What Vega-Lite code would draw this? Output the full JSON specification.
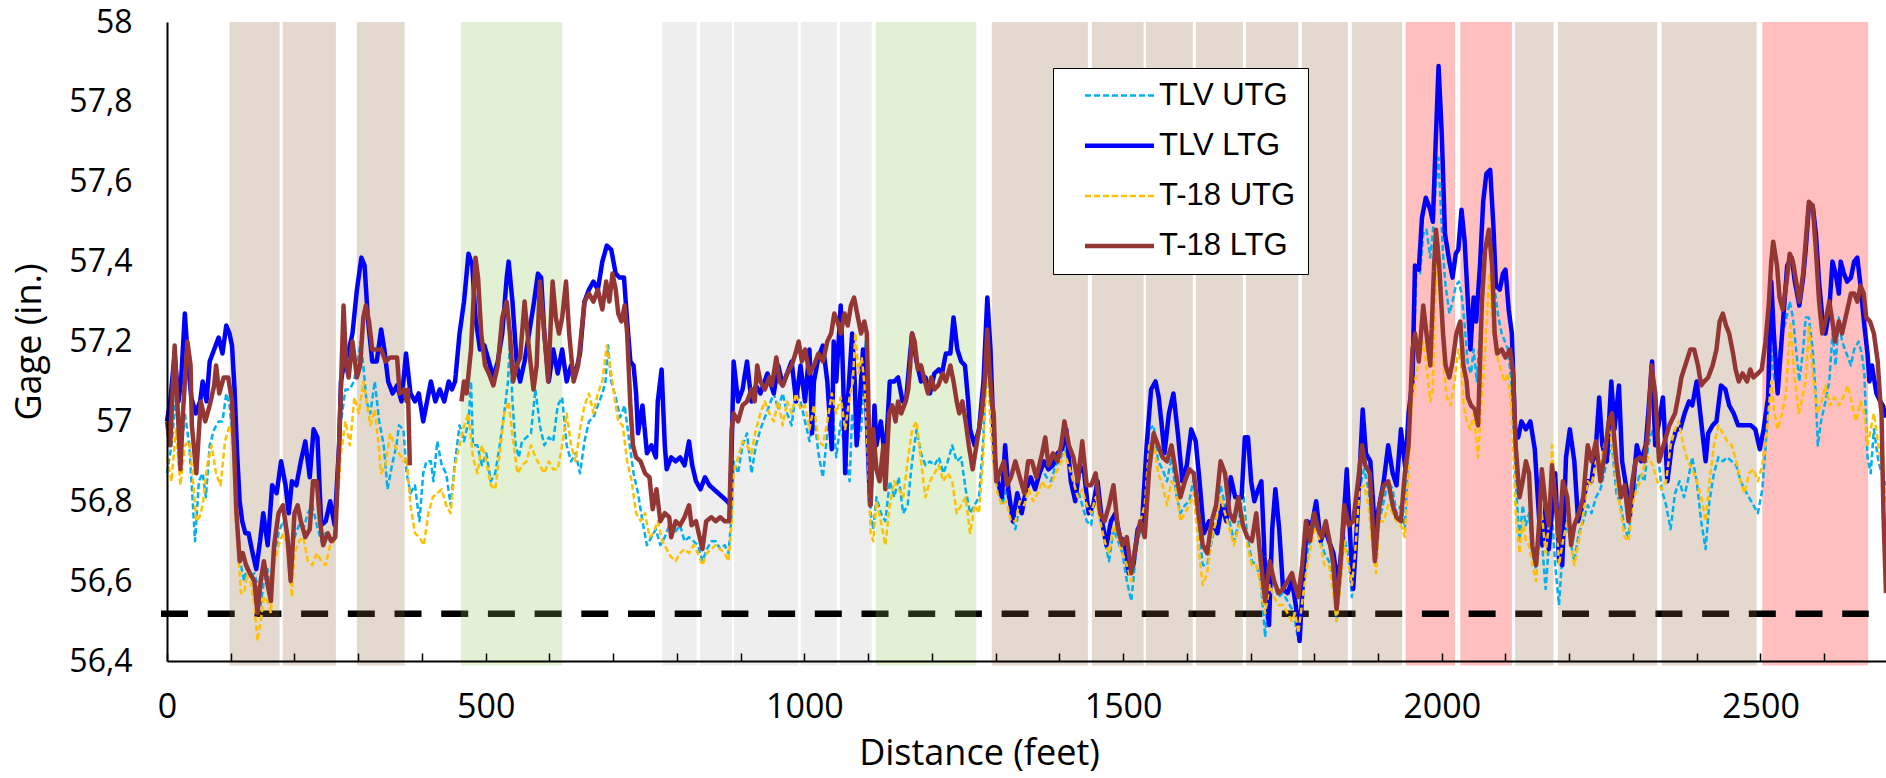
{
"$schema": "https://vega.github.io/schema/vega-lite/v6.json",
"width": 1719, "height": 639,
"autosize": {"type": "none"},
"padding": {"left": 167, "top": 22, "right": 0, "bottom": 117},
"background": "white",
"config": {"view": {"stroke": null}},
"datasets": {
"bands": [
{"start":98.2,"end":176.7,"type":"tan"},{"start":181.6,"end":265.0,"type":"tan"},{"start":297.9,"end":372.9,"type":"tan"},
{"start":461.1,"end":620.2,"type":"green"},
{"start":777.1,"end":831.0,"type":"grey"},{"start":836.6,"end":886.4,"type":"grey"},{"start":889.2,"end":990.1,"type":"grey"},{"start":994.3,"end":1051.0,"type":"grey"},{"start":1055.9,"end":1105.7,"type":"grey"},
{"start":1112.0,"end":1269.6,"type":"green"},
{"start":1294.1,"end":1444.8,"type":"tan"},{"start":1451.1,"end":1532.3,"type":"tan"},{"start":1535.8,"end":1609.4,"type":"tan"},{"start":1614.3,"end":1687.9,"type":"tan"},{"start":1692.7,"end":1775.1,"type":"tan"},{"start":1780.6,"end":1852.7,"type":"tan"},{"start":1858.9,"end":1937.8,"type":"tan"},
{"start":1943.3,"end":2020.9,"type":"red"},{"start":2029.1,"end":2110.1,"type":"red"},
{"start":2115.0,"end":2175.4,"type":"tan"},{"start":2182.2,"end":2338.1,"type":"tan"},{"start":2345.0,"end":2494.0,"type":"tan"},
{"start":2502.9,"end":2669.0,"type":"red"}
],
"limit": [{"x0": -9.4, "x1": 2670, "v": 56.518}],
"gage": [
{"s":"TLV UTG","d":0,"v":56.87},{"s":"TLV UTG","d":7,"v":56.94},{"s":"TLV UTG","d":14,"v":57.06},{"s":"TLV UTG","d":21,"v":56.9},{"s":"TLV UTG","d":28,"v":57.02},{"s":"TLV UTG","d":35,"v":56.94},{"s":"TLV UTG","d":44,"v":56.7},{"s":"TLV UTG","d":50,"v":56.85},{"s":"TLV UTG","d":56,"v":56.87},{"s":"TLV UTG","d":61,"v":56.81},{"s":"TLV UTG","d":67,"v":56.94},{"s":"TLV UTG","d":74,"v":56.98},{"s":"TLV UTG","d":81,"v":57.0},{"s":"TLV UTG","d":87,"v":57.0},{"s":"TLV UTG","d":93,"v":57.07},{"s":"TLV UTG","d":98,"v":57.04},{"s":"TLV UTG","d":102,"v":56.98},{"s":"TLV UTG","d":107,"v":56.85},{"s":"TLV UTG","d":111,"v":56.73},{"s":"TLV UTG","d":116,"v":56.64},{"s":"TLV UTG","d":121,"v":56.6},{"s":"TLV UTG","d":126,"v":56.64},{"s":"TLV UTG","d":131,"v":56.61},{"s":"TLV UTG","d":137,"v":56.62},{"s":"TLV UTG","d":142,"v":56.59},{"s":"TLV UTG","d":147,"v":56.54},{"s":"TLV UTG","d":152,"v":56.6},{"s":"TLV UTG","d":158,"v":56.63},{"s":"TLV UTG","d":163,"v":56.56},{"s":"TLV UTG","d":168,"v":56.65},{"s":"TLV UTG","d":175,"v":56.72},{"s":"TLV UTG","d":182,"v":56.75},{"s":"TLV UTG","d":189,"v":56.73},{"s":"TLV UTG","d":194,"v":56.64},{"s":"TLV UTG","d":200,"v":56.71},{"s":"TLV UTG","d":207,"v":56.74},{"s":"TLV UTG","d":214,"v":56.73},{"s":"TLV UTG","d":221,"v":56.77},{"s":"TLV UTG","d":228,"v":56.79},{"s":"TLV UTG","d":235,"v":56.74},{"s":"TLV UTG","d":242,"v":56.7},{"s":"TLV UTG","d":249,"v":56.72},{"s":"TLV UTG","d":256,"v":56.7},{"s":"TLV UTG","d":263,"v":56.72},{"s":"TLV UTG","d":268,"v":56.85},{"s":"TLV UTG","d":273,"v":57.0},{"s":"TLV UTG","d":280,"v":57.08},{"s":"TLV UTG","d":287,"v":57.08},{"s":"TLV UTG","d":293,"v":57.1},{"s":"TLV UTG","d":298,"v":57.14},{"s":"TLV UTG","d":304,"v":57.2},{"s":"TLV UTG","d":308,"v":57.14},{"s":"TLV UTG","d":313,"v":57.05},{"s":"TLV UTG","d":319,"v":57.02},{"s":"TLV UTG","d":326,"v":57.1},{"s":"TLV UTG","d":333,"v":57.0},{"s":"TLV UTG","d":340,"v":56.94},{"s":"TLV UTG","d":346,"v":56.83},{"s":"TLV UTG","d":353,"v":56.89},{"s":"TLV UTG","d":360,"v":56.94},{"s":"TLV UTG","d":364,"v":56.99},{"s":"TLV UTG","d":371,"v":56.98},{"s":"TLV UTG","d":376,"v":56.87},{"s":"TLV UTG","d":382,"v":56.82},{"s":"TLV UTG","d":389,"v":56.84},{"s":"TLV UTG","d":396,"v":56.75},{"s":"TLV UTG","d":402,"v":56.87},{"s":"TLV UTG","d":407,"v":56.9},{"s":"TLV UTG","d":414,"v":56.9},{"s":"TLV UTG","d":418,"v":56.85},{"s":"TLV UTG","d":424,"v":56.95},{"s":"TLV UTG","d":431,"v":56.89},{"s":"TLV UTG","d":438,"v":56.87},{"s":"TLV UTG","d":445,"v":56.79},{"s":"TLV UTG","d":452,"v":56.9},{"s":"TLV UTG","d":459,"v":56.99},{"s":"TLV UTG","d":466,"v":56.95},{"s":"TLV UTG","d":473,"v":57.0},{"s":"TLV UTG","d":477,"v":57.1},{"s":"TLV UTG","d":480,"v":56.94},{"s":"TLV UTG","d":487,"v":56.94},{"s":"TLV UTG","d":494,"v":56.89},{"s":"TLV UTG","d":501,"v":56.92},{"s":"TLV UTG","d":508,"v":56.85},{"s":"TLV UTG","d":515,"v":56.87},{"s":"TLV UTG","d":522,"v":56.94},{"s":"TLV UTG","d":529,"v":57.02},{"s":"TLV UTG","d":535,"v":57.1},{"s":"TLV UTG","d":538,"v":57.2},{"s":"TLV UTG","d":542,"v":57.05},{"s":"TLV UTG","d":547,"v":56.94},{"s":"TLV UTG","d":552,"v":56.91},{"s":"TLV UTG","d":557,"v":56.95},{"s":"TLV UTG","d":564,"v":56.96},{"s":"TLV UTG","d":571,"v":56.97},{"s":"TLV UTG","d":578,"v":57.08},{"s":"TLV UTG","d":585,"v":56.99},{"s":"TLV UTG","d":592,"v":56.94},{"s":"TLV UTG","d":599,"v":56.96},{"s":"TLV UTG","d":606,"v":56.95},{"s":"TLV UTG","d":613,"v":57.04},{"s":"TLV UTG","d":620,"v":57.06},{"s":"TLV UTG","d":627,"v":56.94},{"s":"TLV UTG","d":634,"v":56.9},{"s":"TLV UTG","d":641,"v":56.92},{"s":"TLV UTG","d":648,"v":56.87},{"s":"TLV UTG","d":655,"v":56.95},{"s":"TLV UTG","d":662,"v":57.0},{"s":"TLV UTG","d":669,"v":57.01},{"s":"TLV UTG","d":676,"v":57.04},{"s":"TLV UTG","d":683,"v":57.07},{"s":"TLV UTG","d":688,"v":57.1},{"s":"TLV UTG","d":692,"v":57.19},{"s":"TLV UTG","d":697,"v":57.1},{"s":"TLV UTG","d":704,"v":57.06},{"s":"TLV UTG","d":711,"v":57.01},{"s":"TLV UTG","d":718,"v":57.04},{"s":"TLV UTG","d":726,"v":56.94},{"s":"TLV UTG","d":732,"v":56.87},{"s":"TLV UTG","d":739,"v":56.82},{"s":"TLV UTG","d":746,"v":56.75},{"s":"TLV UTG","d":753,"v":56.69},{"s":"TLV UTG","d":760,"v":56.71},{"s":"TLV UTG","d":767,"v":56.73},{"s":"TLV UTG","d":774,"v":56.69},{"s":"TLV UTG","d":781,"v":56.71},{"s":"TLV UTG","d":788,"v":56.74},{"s":"TLV UTG","d":796,"v":56.72},{"s":"TLV UTG","d":805,"v":56.74},{"s":"TLV UTG","d":812,"v":56.7},{"s":"TLV UTG","d":819,"v":56.71},{"s":"TLV UTG","d":826,"v":56.7},{"s":"TLV UTG","d":833,"v":56.69},{"s":"TLV UTG","d":840,"v":56.65},{"s":"TLV UTG","d":847,"v":56.68},{"s":"TLV UTG","d":854,"v":56.7},{"s":"TLV UTG","d":861,"v":56.7},{"s":"TLV UTG","d":868,"v":56.68},{"s":"TLV UTG","d":875,"v":56.69},{"s":"TLV UTG","d":881,"v":56.67},{"s":"TLV UTG","d":886,"v":56.77},{"s":"TLV UTG","d":889,"v":56.9},{"s":"TLV UTG","d":896,"v":56.87},{"s":"TLV UTG","d":903,"v":56.94},{"s":"TLV UTG","d":910,"v":56.97},{"s":"TLV UTG","d":917,"v":56.87},{"s":"TLV UTG","d":924,"v":56.94},{"s":"TLV UTG","d":931,"v":56.98},{"s":"TLV UTG","d":938,"v":57.01},{"s":"TLV UTG","d":945,"v":57.04},{"s":"TLV UTG","d":952,"v":57.07},{"s":"TLV UTG","d":959,"v":57.03},{"s":"TLV UTG","d":966,"v":57.07},{"s":"TLV UTG","d":973,"v":57.02},{"s":"TLV UTG","d":980,"v":56.99},{"s":"TLV UTG","d":987,"v":57.08},{"s":"TLV UTG","d":994,"v":57.05},{"s":"TLV UTG","d":1001,"v":57.0},{"s":"TLV UTG","d":1008,"v":56.95},{"s":"TLV UTG","d":1015,"v":57.02},{"s":"TLV UTG","d":1022,"v":56.92},{"s":"TLV UTG","d":1029,"v":56.86},{"s":"TLV UTG","d":1036,"v":56.97},{"s":"TLV UTG","d":1043,"v":57.05},{"s":"TLV UTG","d":1050,"v":56.91},{"s":"TLV UTG","d":1057,"v":57.0},{"s":"TLV UTG","d":1064,"v":56.92},{"s":"TLV UTG","d":1071,"v":56.85},{"s":"TLV UTG","d":1075,"v":57.02},{"s":"TLV UTG","d":1082,"v":56.94},{"s":"TLV UTG","d":1089,"v":56.98},{"s":"TLV UTG","d":1096,"v":57.2},{"s":"TLV UTG","d":1100,"v":57.02},{"s":"TLV UTG","d":1104,"v":56.77},{"s":"TLV UTG","d":1108,"v":56.73},{"s":"TLV UTG","d":1113,"v":56.81},{"s":"TLV UTG","d":1120,"v":56.77},{"s":"TLV UTG","d":1127,"v":56.75},{"s":"TLV UTG","d":1134,"v":56.85},{"s":"TLV UTG","d":1141,"v":56.81},{"s":"TLV UTG","d":1148,"v":56.86},{"s":"TLV UTG","d":1155,"v":56.77},{"s":"TLV UTG","d":1162,"v":56.79},{"s":"TLV UTG","d":1169,"v":56.9},{"s":"TLV UTG","d":1176,"v":56.98},{"s":"TLV UTG","d":1183,"v":56.92},{"s":"TLV UTG","d":1190,"v":56.89},{"s":"TLV UTG","d":1197,"v":56.9},{"s":"TLV UTG","d":1204,"v":56.89},{"s":"TLV UTG","d":1211,"v":56.91},{"s":"TLV UTG","d":1218,"v":56.87},{"s":"TLV UTG","d":1225,"v":56.9},{"s":"TLV UTG","d":1232,"v":56.94},{"s":"TLV UTG","d":1239,"v":56.9},{"s":"TLV UTG","d":1246,"v":56.91},{"s":"TLV UTG","d":1253,"v":56.83},{"s":"TLV UTG","d":1260,"v":56.77},{"s":"TLV UTG","d":1267,"v":56.79},{"s":"TLV UTG","d":1274,"v":56.81},{"s":"TLV UTG","d":1280,"v":56.94},{"s":"TLV UTG","d":1285,"v":57.1},{"s":"TLV UTG","d":1287,"v":57.18},{"s":"TLV UTG","d":1291,"v":57.05},{"s":"TLV UTG","d":1296,"v":56.94},{"s":"TLV UTG","d":1303,"v":56.84},{"s":"TLV UTG","d":1310,"v":56.79},{"s":"TLV UTG","d":1317,"v":56.83},{"s":"TLV UTG","d":1324,"v":56.77},{"s":"TLV UTG","d":1331,"v":56.73},{"s":"TLV UTG","d":1338,"v":56.79},{"s":"TLV UTG","d":1345,"v":56.81},{"s":"TLV UTG","d":1352,"v":56.85},{"s":"TLV UTG","d":1359,"v":56.84},{"s":"TLV UTG","d":1366,"v":56.85},{"s":"TLV UTG","d":1373,"v":56.88},{"s":"TLV UTG","d":1380,"v":56.86},{"s":"TLV UTG","d":1387,"v":56.85},{"s":"TLV UTG","d":1394,"v":56.89},{"s":"TLV UTG","d":1401,"v":56.9},{"s":"TLV UTG","d":1408,"v":56.94},{"s":"TLV UTG","d":1415,"v":56.89},{"s":"TLV UTG","d":1422,"v":56.85},{"s":"TLV UTG","d":1429,"v":56.83},{"s":"TLV UTG","d":1436,"v":56.79},{"s":"TLV UTG","d":1443,"v":56.75},{"s":"TLV UTG","d":1450,"v":56.74},{"s":"TLV UTG","d":1457,"v":56.84},{"s":"TLV UTG","d":1464,"v":56.77},{"s":"TLV UTG","d":1471,"v":56.7},{"s":"TLV UTG","d":1478,"v":56.65},{"s":"TLV UTG","d":1485,"v":56.73},{"s":"TLV UTG","d":1492,"v":56.7},{"s":"TLV UTG","d":1499,"v":56.67},{"s":"TLV UTG","d":1506,"v":56.6},{"s":"TLV UTG","d":1513,"v":56.55},{"s":"TLV UTG","d":1520,"v":56.67},{"s":"TLV UTG","d":1527,"v":56.73},{"s":"TLV UTG","d":1534,"v":56.8},{"s":"TLV UTG","d":1541,"v":56.98},{"s":"TLV UTG","d":1548,"v":56.99},{"s":"TLV UTG","d":1555,"v":56.9},{"s":"TLV UTG","d":1562,"v":56.88},{"s":"TLV UTG","d":1569,"v":56.85},{"s":"TLV UTG","d":1576,"v":56.91},{"s":"TLV UTG","d":1583,"v":56.82},{"s":"TLV UTG","d":1590,"v":56.77},{"s":"TLV UTG","d":1597,"v":56.79},{"s":"TLV UTG","d":1604,"v":56.8},{"s":"TLV UTG","d":1611,"v":56.86},{"s":"TLV UTG","d":1618,"v":56.75},{"s":"TLV UTG","d":1625,"v":56.64},{"s":"TLV UTG","d":1632,"v":56.64},{"s":"TLV UTG","d":1639,"v":56.7},{"s":"TLV UTG","d":1646,"v":56.75},{"s":"TLV UTG","d":1653,"v":56.84},{"s":"TLV UTG","d":1660,"v":56.79},{"s":"TLV UTG","d":1667,"v":56.75},{"s":"TLV UTG","d":1674,"v":56.7},{"s":"TLV UTG","d":1681,"v":56.74},{"s":"TLV UTG","d":1688,"v":56.83},{"s":"TLV UTG","d":1695,"v":56.71},{"s":"TLV UTG","d":1702,"v":56.65},{"s":"TLV UTG","d":1709,"v":56.64},{"s":"TLV UTG","d":1716,"v":56.6},{"s":"TLV UTG","d":1723,"v":56.46},{"s":"TLV UTG","d":1730,"v":56.62},{"s":"TLV UTG","d":1737,"v":56.59},{"s":"TLV UTG","d":1744,"v":56.56},{"s":"TLV UTG","d":1751,"v":56.57},{"s":"TLV UTG","d":1758,"v":56.55},{"s":"TLV UTG","d":1765,"v":56.53},{"s":"TLV UTG","d":1768,"v":56.52},{"s":"TLV UTG","d":1775,"v":56.45},{"s":"TLV UTG","d":1782,"v":56.57},{"s":"TLV UTG","d":1789,"v":56.67},{"s":"TLV UTG","d":1796,"v":56.72},{"s":"TLV UTG","d":1803,"v":56.75},{"s":"TLV UTG","d":1810,"v":56.7},{"s":"TLV UTG","d":1816,"v":56.67},{"s":"TLV UTG","d":1823,"v":56.65},{"s":"TLV UTG","d":1830,"v":56.6},{"s":"TLV UTG","d":1835,"v":56.5},{"s":"TLV UTG","d":1841,"v":56.6},{"s":"TLV UTG","d":1847,"v":56.71},{"s":"TLV UTG","d":1854,"v":56.66},{"s":"TLV UTG","d":1859,"v":56.56},{"s":"TLV UTG","d":1864,"v":56.69},{"s":"TLV UTG","d":1871,"v":56.83},{"s":"TLV UTG","d":1878,"v":56.88},{"s":"TLV UTG","d":1885,"v":56.83},{"s":"TLV UTG","d":1891,"v":56.73},{"s":"TLV UTG","d":1897,"v":56.64},{"s":"TLV UTG","d":1902,"v":56.75},{"s":"TLV UTG","d":1909,"v":56.8},{"s":"TLV UTG","d":1916,"v":56.85},{"s":"TLV UTG","d":1923,"v":56.83},{"s":"TLV UTG","d":1929,"v":56.77},{"s":"TLV UTG","d":1936,"v":56.79},{"s":"TLV UTG","d":1942,"v":56.73},{"s":"TLV UTG","d":1947,"v":56.9},{"s":"TLV UTG","d":1952,"v":57.06},{"s":"TLV UTG","d":1956,"v":57.14},{"s":"TLV UTG","d":1960,"v":57.37},{"s":"TLV UTG","d":1966,"v":57.37},{"s":"TLV UTG","d":1971,"v":57.47},{"s":"TLV UTG","d":1976,"v":57.48},{"s":"TLV UTG","d":1982,"v":57.41},{"s":"TLV UTG","d":1987,"v":57.49},{"s":"TLV UTG","d":1991,"v":57.6},{"s":"TLV UTG","d":1995,"v":57.66},{"s":"TLV UTG","d":1998,"v":57.55},{"s":"TLV UTG","d":2002,"v":57.42},{"s":"TLV UTG","d":2006,"v":57.34},{"s":"TLV UTG","d":2012,"v":57.27},{"s":"TLV UTG","d":2017,"v":57.3},{"s":"TLV UTG","d":2022,"v":57.34},{"s":"TLV UTG","d":2027,"v":57.35},{"s":"TLV UTG","d":2031,"v":57.32},{"s":"TLV UTG","d":2036,"v":57.24},{"s":"TLV UTG","d":2041,"v":57.14},{"s":"TLV UTG","d":2046,"v":57.12},{"s":"TLV UTG","d":2050,"v":57.18},{"s":"TLV UTG","d":2055,"v":57.1},{"s":"TLV UTG","d":2060,"v":57.22},{"s":"TLV UTG","d":2065,"v":57.37},{"s":"TLV UTG","d":2070,"v":57.45},{"s":"TLV UTG","d":2075,"v":57.48},{"s":"TLV UTG","d":2079,"v":57.4},{"s":"TLV UTG","d":2084,"v":57.32},{"s":"TLV UTG","d":2089,"v":57.26},{"s":"TLV UTG","d":2094,"v":57.22},{"s":"TLV UTG","d":2099,"v":57.2},{"s":"TLV UTG","d":2104,"v":57.18},{"s":"TLV UTG","d":2109,"v":57.1},{"s":"TLV UTG","d":2113,"v":56.98},{"s":"TLV UTG","d":2116,"v":56.85},{"s":"TLV UTG","d":2122,"v":56.7},{"s":"TLV UTG","d":2127,"v":56.79},{"s":"TLV UTG","d":2132,"v":56.74},{"s":"TLV UTG","d":2137,"v":56.77},{"s":"TLV UTG","d":2142,"v":56.67},{"s":"TLV UTG","d":2148,"v":56.63},{"s":"TLV UTG","d":2153,"v":56.69},{"s":"TLV UTG","d":2157,"v":56.7},{"s":"TLV UTG","d":2163,"v":56.58},{"s":"TLV UTG","d":2168,"v":56.69},{"s":"TLV UTG","d":2173,"v":56.77},{"s":"TLV UTG","d":2178,"v":56.64},{"s":"TLV UTG","d":2184,"v":56.54},{"s":"TLV UTG","d":2190,"v":56.69},{"s":"TLV UTG","d":2197,"v":56.75},{"s":"TLV UTG","d":2202,"v":56.7},{"s":"TLV UTG","d":2208,"v":56.65},{"s":"TLV UTG","d":2215,"v":56.72},{"s":"TLV UTG","d":2222,"v":56.75},{"s":"TLV UTG","d":2229,"v":56.79},{"s":"TLV UTG","d":2235,"v":56.77},{"s":"TLV UTG","d":2242,"v":56.81},{"s":"TLV UTG","d":2249,"v":56.83},{"s":"TLV UTG","d":2255,"v":56.87},{"s":"TLV UTG","d":2262,"v":56.92},{"s":"TLV UTG","d":2267,"v":56.94},{"s":"TLV UTG","d":2274,"v":56.82},{"s":"TLV UTG","d":2281,"v":56.79},{"s":"TLV UTG","d":2287,"v":56.73},{"s":"TLV UTG","d":2293,"v":56.71},{"s":"TLV UTG","d":2299,"v":56.81},{"s":"TLV UTG","d":2304,"v":56.83},{"s":"TLV UTG","d":2311,"v":56.87},{"s":"TLV UTG","d":2318,"v":56.85},{"s":"TLV UTG","d":2324,"v":56.94},{"s":"TLV UTG","d":2331,"v":56.98},{"s":"TLV UTG","d":2338,"v":56.94},{"s":"TLV UTG","d":2345,"v":56.83},{"s":"TLV UTG","d":2352,"v":56.79},{"s":"TLV UTG","d":2359,"v":56.73},{"s":"TLV UTG","d":2366,"v":56.82},{"s":"TLV UTG","d":2373,"v":56.85},{"s":"TLV UTG","d":2380,"v":56.81},{"s":"TLV UTG","d":2386,"v":56.85},{"s":"TLV UTG","d":2393,"v":56.91},{"s":"TLV UTG","d":2400,"v":56.85},{"s":"TLV UTG","d":2407,"v":56.75},{"s":"TLV UTG","d":2414,"v":56.68},{"s":"TLV UTG","d":2420,"v":56.8},{"s":"TLV UTG","d":2427,"v":56.87},{"s":"TLV UTG","d":2434,"v":56.91},{"s":"TLV UTG","d":2441,"v":56.9},{"s":"TLV UTG","d":2448,"v":56.91},{"s":"TLV UTG","d":2455,"v":56.9},{"s":"TLV UTG","d":2462,"v":56.89},{"s":"TLV UTG","d":2469,"v":56.85},{"s":"TLV UTG","d":2475,"v":56.83},{"s":"TLV UTG","d":2482,"v":56.81},{"s":"TLV UTG","d":2489,"v":56.79},{"s":"TLV UTG","d":2496,"v":56.77},{"s":"TLV UTG","d":2503,"v":56.83},{"s":"TLV UTG","d":2510,"v":56.98},{"s":"TLV UTG","d":2517,"v":57.18},{"s":"TLV UTG","d":2522,"v":57.1},{"s":"TLV UTG","d":2527,"v":57.14},{"s":"TLV UTG","d":2534,"v":57.22},{"s":"TLV UTG","d":2540,"v":57.25},{"s":"TLV UTG","d":2546,"v":57.3},{"s":"TLV UTG","d":2551,"v":57.26},{"s":"TLV UTG","d":2556,"v":57.18},{"s":"TLV UTG","d":2561,"v":57.1},{"s":"TLV UTG","d":2567,"v":57.18},{"s":"TLV UTG","d":2571,"v":57.26},{"s":"TLV UTG","d":2576,"v":57.26},{"s":"TLV UTG","d":2582,"v":57.18},{"s":"TLV UTG","d":2587,"v":57.06},{"s":"TLV UTG","d":2590,"v":56.94},{"s":"TLV UTG","d":2595,"v":57.0},{"s":"TLV UTG","d":2602,"v":57.05},{"s":"TLV UTG","d":2608,"v":57.1},{"s":"TLV UTG","d":2613,"v":57.22},{"s":"TLV UTG","d":2618,"v":57.14},{"s":"TLV UTG","d":2623,"v":57.26},{"s":"TLV UTG","d":2628,"v":57.2},{"s":"TLV UTG","d":2635,"v":57.17},{"s":"TLV UTG","d":2642,"v":57.14},{"s":"TLV UTG","d":2647,"v":57.18},{"s":"TLV UTG","d":2654,"v":57.2},{"s":"TLV UTG","d":2659,"v":57.17},{"s":"TLV UTG","d":2663,"v":57.12},{"s":"TLV UTG","d":2668,"v":56.91},{"s":"TLV UTG","d":2673,"v":56.87},{"s":"TLV UTG","d":2678,"v":56.98},{"s":"TLV UTG","d":2685,"v":56.9},{"s":"TLV UTG","d":2692,"v":56.86},{"s":"TLV UTG","d":2697,"v":56.84},
{"s":"TLV LTG","d":0,"v":57.0},{"s":"TLV LTG","d":5,"v":57.05},{"s":"TLV LTG","d":12,"v":57.17},{"s":"TLV LTG","d":18,"v":57.05},{"s":"TLV LTG","d":22,"v":57.1},{"s":"TLV LTG","d":28,"v":57.27},{"s":"TLV LTG","d":33,"v":57.15},{"s":"TLV LTG","d":38,"v":57.06},{"s":"TLV LTG","d":45,"v":57.02},{"s":"TLV LTG","d":52,"v":57.05},{"s":"TLV LTG","d":56,"v":57.1},{"s":"TLV LTG","d":62,"v":57.05},{"s":"TLV LTG","d":67,"v":57.15},{"s":"TLV LTG","d":74,"v":57.18},{"s":"TLV LTG","d":81,"v":57.21},{"s":"TLV LTG","d":87,"v":57.17},{"s":"TLV LTG","d":93,"v":57.24},{"s":"TLV LTG","d":98,"v":57.22},{"s":"TLV LTG","d":102,"v":57.19},{"s":"TLV LTG","d":106,"v":57.08},{"s":"TLV LTG","d":110,"v":56.92},{"s":"TLV LTG","d":114,"v":56.8},{"s":"TLV LTG","d":118,"v":56.75},{"s":"TLV LTG","d":123,"v":56.72},{"s":"TLV LTG","d":128,"v":56.72},{"s":"TLV LTG","d":133,"v":56.68},{"s":"TLV LTG","d":140,"v":56.63},{"s":"TLV LTG","d":146,"v":56.7},{"s":"TLV LTG","d":151,"v":56.77},{"s":"TLV LTG","d":158,"v":56.69},{"s":"TLV LTG","d":165,"v":56.84},{"s":"TLV LTG","d":172,"v":56.82},{"s":"TLV LTG","d":179,"v":56.9},{"s":"TLV LTG","d":186,"v":56.84},{"s":"TLV LTG","d":191,"v":56.77},{"s":"TLV LTG","d":196,"v":56.85},{"s":"TLV LTG","d":203,"v":56.84},{"s":"TLV LTG","d":210,"v":56.9},{"s":"TLV LTG","d":217,"v":56.95},{"s":"TLV LTG","d":224,"v":56.86},{"s":"TLV LTG","d":230,"v":56.98},{"s":"TLV LTG","d":236,"v":56.96},{"s":"TLV LTG","d":242,"v":56.74},{"s":"TLV LTG","d":249,"v":56.75},{"s":"TLV LTG","d":256,"v":56.8},{"s":"TLV LTG","d":263,"v":56.74},{"s":"TLV LTG","d":270,"v":56.94},{"s":"TLV LTG","d":273,"v":57.1},{"s":"TLV LTG","d":277,"v":57.14},{"s":"TLV LTG","d":284,"v":57.17},{"s":"TLV LTG","d":291,"v":57.22},{"s":"TLV LTG","d":298,"v":57.33},{"s":"TLV LTG","d":305,"v":57.41},{"s":"TLV LTG","d":310,"v":57.39},{"s":"TLV LTG","d":315,"v":57.26},{"s":"TLV LTG","d":322,"v":57.15},{"s":"TLV LTG","d":329,"v":57.15},{"s":"TLV LTG","d":336,"v":57.23},{"s":"TLV LTG","d":341,"v":57.18},{"s":"TLV LTG","d":347,"v":57.1},{"s":"TLV LTG","d":354,"v":57.07},{"s":"TLV LTG","d":361,"v":57.09},{"s":"TLV LTG","d":368,"v":57.05},{"s":"TLV LTG","d":375,"v":57.17},{"s":"TLV LTG","d":382,"v":57.07},{"s":"TLV LTG","d":389,"v":57.05},{"s":"TLV LTG","d":395,"v":57.07},{"s":"TLV LTG","d":402,"v":57.0},{"s":"TLV LTG","d":408,"v":57.05},{"s":"TLV LTG","d":414,"v":57.1},{"s":"TLV LTG","d":421,"v":57.05},{"s":"TLV LTG","d":428,"v":57.08},{"s":"TLV LTG","d":435,"v":57.05},{"s":"TLV LTG","d":442,"v":57.1},{"s":"TLV LTG","d":447,"v":57.08},{"s":"TLV LTG","d":452,"v":57.1},{"s":"TLV LTG","d":459,"v":57.22},{"s":"TLV LTG","d":466,"v":57.3},{"s":"TLV LTG","d":473,"v":57.42},{"s":"TLV LTG","d":479,"v":57.39},{"s":"TLV LTG","d":484,"v":57.26},{"s":"TLV LTG","d":491,"v":57.18},{"s":"TLV LTG","d":498,"v":57.19},{"s":"TLV LTG","d":505,"v":57.15},{"s":"TLV LTG","d":512,"v":57.11},{"s":"TLV LTG","d":519,"v":57.15},{"s":"TLV LTG","d":526,"v":57.22},{"s":"TLV LTG","d":533,"v":57.36},{"s":"TLV LTG","d":536,"v":57.4},{"s":"TLV LTG","d":542,"v":57.3},{"s":"TLV LTG","d":549,"v":57.14},{"s":"TLV LTG","d":554,"v":57.1},{"s":"TLV LTG","d":561,"v":57.15},{"s":"TLV LTG","d":568,"v":57.22},{"s":"TLV LTG","d":575,"v":57.29},{"s":"TLV LTG","d":582,"v":57.37},{"s":"TLV LTG","d":587,"v":57.36},{"s":"TLV LTG","d":592,"v":57.22},{"s":"TLV LTG","d":599,"v":57.1},{"s":"TLV LTG","d":606,"v":57.18},{"s":"TLV LTG","d":613,"v":57.12},{"s":"TLV LTG","d":620,"v":57.18},{"s":"TLV LTG","d":627,"v":57.1},{"s":"TLV LTG","d":634,"v":57.14},{"s":"TLV LTG","d":641,"v":57.12},{"s":"TLV LTG","d":648,"v":57.17},{"s":"TLV LTG","d":655,"v":57.3},{"s":"TLV LTG","d":662,"v":57.33},{"s":"TLV LTG","d":669,"v":57.35},{"s":"TLV LTG","d":676,"v":57.33},{"s":"TLV LTG","d":683,"v":57.4},{"s":"TLV LTG","d":690,"v":57.44},{"s":"TLV LTG","d":697,"v":57.43},{"s":"TLV LTG","d":704,"v":57.37},{"s":"TLV LTG","d":710,"v":57.36},{"s":"TLV LTG","d":717,"v":57.36},{"s":"TLV LTG","d":722,"v":57.25},{"s":"TLV LTG","d":727,"v":57.15},{"s":"TLV LTG","d":732,"v":57.14},{"s":"TLV LTG","d":736,"v":57.07},{"s":"TLV LTG","d":739,"v":56.97},{"s":"TLV LTG","d":746,"v":57.04},{"s":"TLV LTG","d":753,"v":56.92},{"s":"TLV LTG","d":760,"v":56.94},{"s":"TLV LTG","d":767,"v":56.91},{"s":"TLV LTG","d":770,"v":57.05},{"s":"TLV LTG","d":776,"v":57.13},{"s":"TLV LTG","d":781,"v":56.94},{"s":"TLV LTG","d":784,"v":56.88},{"s":"TLV LTG","d":791,"v":56.91},{"s":"TLV LTG","d":798,"v":56.9},{"s":"TLV LTG","d":805,"v":56.91},{"s":"TLV LTG","d":812,"v":56.89},{"s":"TLV LTG","d":819,"v":56.95},{"s":"TLV LTG","d":824,"v":56.89},{"s":"TLV LTG","d":830,"v":56.85},{"s":"TLV LTG","d":837,"v":56.83},{"s":"TLV LTG","d":844,"v":56.86},{"s":"TLV LTG","d":851,"v":56.84},{"s":"TLV LTG","d":858,"v":56.83},{"s":"TLV LTG","d":865,"v":56.82},{"s":"TLV LTG","d":872,"v":56.81},{"s":"TLV LTG","d":879,"v":56.8},{"s":"TLV LTG","d":884,"v":56.79},{"s":"TLV LTG","d":889,"v":57.15},{"s":"TLV LTG","d":896,"v":57.05},{"s":"TLV LTG","d":903,"v":57.08},{"s":"TLV LTG","d":910,"v":57.15},{"s":"TLV LTG","d":917,"v":57.05},{"s":"TLV LTG","d":924,"v":57.09},{"s":"TLV LTG","d":931,"v":57.07},{"s":"TLV LTG","d":942,"v":57.12},{"s":"TLV LTG","d":952,"v":57.07},{"s":"TLV LTG","d":959,"v":57.14},{"s":"TLV LTG","d":966,"v":57.09},{"s":"TLV LTG","d":973,"v":57.12},{"s":"TLV LTG","d":980,"v":57.15},{"s":"TLV LTG","d":987,"v":57.05},{"s":"TLV LTG","d":994,"v":57.14},{"s":"TLV LTG","d":1001,"v":57.05},{"s":"TLV LTG","d":1008,"v":57.18},{"s":"TLV LTG","d":1012,"v":56.97},{"s":"TLV LTG","d":1015,"v":57.1},{"s":"TLV LTG","d":1022,"v":57.16},{"s":"TLV LTG","d":1029,"v":57.19},{"s":"TLV LTG","d":1036,"v":57.1},{"s":"TLV LTG","d":1043,"v":56.93},{"s":"TLV LTG","d":1046,"v":57.2},{"s":"TLV LTG","d":1050,"v":57.1},{"s":"TLV LTG","d":1057,"v":57.29},{"s":"TLV LTG","d":1061,"v":57.1},{"s":"TLV LTG","d":1064,"v":56.87},{"s":"TLV LTG","d":1068,"v":57.05},{"s":"TLV LTG","d":1075,"v":57.22},{"s":"TLV LTG","d":1079,"v":57.1},{"s":"TLV LTG","d":1082,"v":56.94},{"s":"TLV LTG","d":1087,"v":57.05},{"s":"TLV LTG","d":1092,"v":57.18},{"s":"TLV LTG","d":1097,"v":57.05},{"s":"TLV LTG","d":1103,"v":56.79},{"s":"TLV LTG","d":1108,"v":56.95},{"s":"TLV LTG","d":1110,"v":57.04},{"s":"TLV LTG","d":1113,"v":56.94},{"s":"TLV LTG","d":1120,"v":57.0},{"s":"TLV LTG","d":1127,"v":56.9},{"s":"TLV LTG","d":1134,"v":57.1},{"s":"TLV LTG","d":1141,"v":57.1},{"s":"TLV LTG","d":1147,"v":57.11},{"s":"TLV LTG","d":1154,"v":57.05},{"s":"TLV LTG","d":1160,"v":57.06},{"s":"TLV LTG","d":1166,"v":57.17},{"s":"TLV LTG","d":1169,"v":57.22},{"s":"TLV LTG","d":1176,"v":57.15},{"s":"TLV LTG","d":1183,"v":57.1},{"s":"TLV LTG","d":1190,"v":57.11},{"s":"TLV LTG","d":1197,"v":57.07},{"s":"TLV LTG","d":1204,"v":57.12},{"s":"TLV LTG","d":1211,"v":57.13},{"s":"TLV LTG","d":1216,"v":57.12},{"s":"TLV LTG","d":1222,"v":57.17},{"s":"TLV LTG","d":1229,"v":57.17},{"s":"TLV LTG","d":1234,"v":57.26},{"s":"TLV LTG","d":1240,"v":57.18},{"s":"TLV LTG","d":1246,"v":57.15},{"s":"TLV LTG","d":1252,"v":57.14},{"s":"TLV LTG","d":1257,"v":57.05},{"s":"TLV LTG","d":1260,"v":56.98},{"s":"TLV LTG","d":1267,"v":56.94},{"s":"TLV LTG","d":1274,"v":56.98},{"s":"TLV LTG","d":1281,"v":57.1},{"s":"TLV LTG","d":1287,"v":57.31},{"s":"TLV LTG","d":1292,"v":57.18},{"s":"TLV LTG","d":1296,"v":57.0},{"s":"TLV LTG","d":1299,"v":56.9},{"s":"TLV LTG","d":1303,"v":56.85},{"s":"TLV LTG","d":1310,"v":56.81},{"s":"TLV LTG","d":1315,"v":56.94},{"s":"TLV LTG","d":1320,"v":56.83},{"s":"TLV LTG","d":1327,"v":56.75},{"s":"TLV LTG","d":1334,"v":56.82},{"s":"TLV LTG","d":1341,"v":56.77},{"s":"TLV LTG","d":1348,"v":56.83},{"s":"TLV LTG","d":1355,"v":56.86},{"s":"TLV LTG","d":1362,"v":56.83},{"s":"TLV LTG","d":1369,"v":56.87},{"s":"TLV LTG","d":1376,"v":56.9},{"s":"TLV LTG","d":1383,"v":56.88},{"s":"TLV LTG","d":1390,"v":56.89},{"s":"TLV LTG","d":1397,"v":56.92},{"s":"TLV LTG","d":1404,"v":56.93},{"s":"TLV LTG","d":1411,"v":56.98},{"s":"TLV LTG","d":1418,"v":56.85},{"s":"TLV LTG","d":1425,"v":56.8},{"s":"TLV LTG","d":1432,"v":56.89},{"s":"TLV LTG","d":1439,"v":56.87},{"s":"TLV LTG","d":1446,"v":56.77},{"s":"TLV LTG","d":1453,"v":56.79},{"s":"TLV LTG","d":1460,"v":56.85},{"s":"TLV LTG","d":1467,"v":56.75},{"s":"TLV LTG","d":1474,"v":56.69},{"s":"TLV LTG","d":1481,"v":56.75},{"s":"TLV LTG","d":1488,"v":56.77},{"s":"TLV LTG","d":1495,"v":56.71},{"s":"TLV LTG","d":1502,"v":56.7},{"s":"TLV LTG","d":1509,"v":56.62},{"s":"TLV LTG","d":1516,"v":56.64},{"s":"TLV LTG","d":1523,"v":56.73},{"s":"TLV LTG","d":1530,"v":56.75},{"s":"TLV LTG","d":1537,"v":56.94},{"s":"TLV LTG","d":1544,"v":57.08},{"s":"TLV LTG","d":1551,"v":57.1},{"s":"TLV LTG","d":1556,"v":57.06},{"s":"TLV LTG","d":1560,"v":57.0},{"s":"TLV LTG","d":1565,"v":56.92},{"s":"TLV LTG","d":1572,"v":57.02},{"s":"TLV LTG","d":1579,"v":57.07},{"s":"TLV LTG","d":1586,"v":56.97},{"s":"TLV LTG","d":1593,"v":56.85},{"s":"TLV LTG","d":1600,"v":56.89},{"s":"TLV LTG","d":1607,"v":56.98},{"s":"TLV LTG","d":1614,"v":56.95},{"s":"TLV LTG","d":1620,"v":56.85},{"s":"TLV LTG","d":1627,"v":56.72},{"s":"TLV LTG","d":1635,"v":56.75},{"s":"TLV LTG","d":1642,"v":56.74},{"s":"TLV LTG","d":1648,"v":56.72},{"s":"TLV LTG","d":1655,"v":56.79},{"s":"TLV LTG","d":1662,"v":56.75},{"s":"TLV LTG","d":1669,"v":56.86},{"s":"TLV LTG","d":1676,"v":56.81},{"s":"TLV LTG","d":1686,"v":56.81},{"s":"TLV LTG","d":1691,"v":56.96},{"s":"TLV LTG","d":1696,"v":56.96},{"s":"TLV LTG","d":1701,"v":56.85},{"s":"TLV LTG","d":1706,"v":56.8},{"s":"TLV LTG","d":1712,"v":56.83},{"s":"TLV LTG","d":1717,"v":56.85},{"s":"TLV LTG","d":1721,"v":56.7},{"s":"TLV LTG","d":1724,"v":56.57},{"s":"TLV LTG","d":1729,"v":56.49},{"s":"TLV LTG","d":1734,"v":56.73},{"s":"TLV LTG","d":1739,"v":56.83},{"s":"TLV LTG","d":1745,"v":56.73},{"s":"TLV LTG","d":1751,"v":56.58},{"s":"TLV LTG","d":1758,"v":56.57},{"s":"TLV LTG","d":1765,"v":56.6},{"s":"TLV LTG","d":1771,"v":56.54},{"s":"TLV LTG","d":1777,"v":56.45},{"s":"TLV LTG","d":1782,"v":56.6},{"s":"TLV LTG","d":1789,"v":56.75},{"s":"TLV LTG","d":1796,"v":56.74},{"s":"TLV LTG","d":1803,"v":56.8},{"s":"TLV LTG","d":1810,"v":56.7},{"s":"TLV LTG","d":1817,"v":56.73},{"s":"TLV LTG","d":1823,"v":56.7},{"s":"TLV LTG","d":1830,"v":56.67},{"s":"TLV LTG","d":1837,"v":56.59},{"s":"TLV LTG","d":1844,"v":56.7},{"s":"TLV LTG","d":1851,"v":56.88},{"s":"TLV LTG","d":1857,"v":56.69},{"s":"TLV LTG","d":1861,"v":56.58},{"s":"TLV LTG","d":1868,"v":56.77},{"s":"TLV LTG","d":1876,"v":57.03},{"s":"TLV LTG","d":1881,"v":56.92},{"s":"TLV LTG","d":1888,"v":56.9},{"s":"TLV LTG","d":1895,"v":56.73},{"s":"TLV LTG","d":1902,"v":56.79},{"s":"TLV LTG","d":1909,"v":56.85},{"s":"TLV LTG","d":1916,"v":56.94},{"s":"TLV LTG","d":1923,"v":56.87},{"s":"TLV LTG","d":1929,"v":56.84},{"s":"TLV LTG","d":1936,"v":56.98},{"s":"TLV LTG","d":1943,"v":56.88},{"s":"TLV LTG","d":1948,"v":57.02},{"s":"TLV LTG","d":1954,"v":57.1},{"s":"TLV LTG","d":1958,"v":57.39},{"s":"TLV LTG","d":1964,"v":57.38},{"s":"TLV LTG","d":1969,"v":57.51},{"s":"TLV LTG","d":1975,"v":57.56},{"s":"TLV LTG","d":1982,"v":57.53},{"s":"TLV LTG","d":1986,"v":57.5},{"s":"TLV LTG","d":1991,"v":57.72},{"s":"TLV LTG","d":1995,"v":57.89},{"s":"TLV LTG","d":2000,"v":57.72},{"s":"TLV LTG","d":2005,"v":57.47},{"s":"TLV LTG","d":2012,"v":57.4},{"s":"TLV LTG","d":2017,"v":57.36},{"s":"TLV LTG","d":2022,"v":57.42},{"s":"TLV LTG","d":2026,"v":57.43},{"s":"TLV LTG","d":2031,"v":57.53},{"s":"TLV LTG","d":2036,"v":57.45},{"s":"TLV LTG","d":2041,"v":57.3},{"s":"TLV LTG","d":2045,"v":57.18},{"s":"TLV LTG","d":2050,"v":57.31},{"s":"TLV LTG","d":2054,"v":57.25},{"s":"TLV LTG","d":2060,"v":57.39},{"s":"TLV LTG","d":2065,"v":57.55},{"s":"TLV LTG","d":2070,"v":57.62},{"s":"TLV LTG","d":2076,"v":57.63},{"s":"TLV LTG","d":2081,"v":57.49},{"s":"TLV LTG","d":2085,"v":57.34},{"s":"TLV LTG","d":2091,"v":57.33},{"s":"TLV LTG","d":2096,"v":57.37},{"s":"TLV LTG","d":2100,"v":57.38},{"s":"TLV LTG","d":2105,"v":57.28},{"s":"TLV LTG","d":2110,"v":57.22},{"s":"TLV LTG","d":2115,"v":56.98},{"s":"TLV LTG","d":2120,"v":56.96},{"s":"TLV LTG","d":2125,"v":57.0},{"s":"TLV LTG","d":2132,"v":56.98},{"s":"TLV LTG","d":2139,"v":57.0},{"s":"TLV LTG","d":2146,"v":56.93},{"s":"TLV LTG","d":2153,"v":56.75},{"s":"TLV LTG","d":2158,"v":56.69},{"s":"TLV LTG","d":2163,"v":56.79},{"s":"TLV LTG","d":2168,"v":56.68},{"s":"TLV LTG","d":2173,"v":56.78},{"s":"TLV LTG","d":2178,"v":56.87},{"s":"TLV LTG","d":2184,"v":56.65},{"s":"TLV LTG","d":2189,"v":56.64},{"s":"TLV LTG","d":2195,"v":56.91},{"s":"TLV LTG","d":2201,"v":56.98},{"s":"TLV LTG","d":2208,"v":56.9},{"s":"TLV LTG","d":2214,"v":56.75},{"s":"TLV LTG","d":2221,"v":56.79},{"s":"TLV LTG","d":2228,"v":56.85},{"s":"TLV LTG","d":2235,"v":56.85},{"s":"TLV LTG","d":2242,"v":56.94},{"s":"TLV LTG","d":2247,"v":57.06},{"s":"TLV LTG","d":2252,"v":56.94},{"s":"TLV LTG","d":2259,"v":56.9},{"s":"TLV LTG","d":2266,"v":57.1},{"s":"TLV LTG","d":2271,"v":56.98},{"s":"TLV LTG","d":2278,"v":57.09},{"s":"TLV LTG","d":2283,"v":56.9},{"s":"TLV LTG","d":2290,"v":56.83},{"s":"TLV LTG","d":2295,"v":56.76},{"s":"TLV LTG","d":2301,"v":56.85},{"s":"TLV LTG","d":2306,"v":56.94},{"s":"TLV LTG","d":2313,"v":56.9},{"s":"TLV LTG","d":2320,"v":56.94},{"s":"TLV LTG","d":2324,"v":57.02},{"s":"TLV LTG","d":2330,"v":57.15},{"s":"TLV LTG","d":2335,"v":56.94},{"s":"TLV LTG","d":2341,"v":57.0},{"s":"TLV LTG","d":2347,"v":57.06},{"s":"TLV LTG","d":2354,"v":56.85},{"s":"TLV LTG","d":2361,"v":56.94},{"s":"TLV LTG","d":2368,"v":56.98},{"s":"TLV LTG","d":2374,"v":56.98},{"s":"TLV LTG","d":2381,"v":57.02},{"s":"TLV LTG","d":2388,"v":57.05},{"s":"TLV LTG","d":2393,"v":57.04},{"s":"TLV LTG","d":2400,"v":57.1},{"s":"TLV LTG","d":2407,"v":57.0},{"s":"TLV LTG","d":2414,"v":56.9},{"s":"TLV LTG","d":2418,"v":56.97},{"s":"TLV LTG","d":2425,"v":56.99},{"s":"TLV LTG","d":2431,"v":57.0},{"s":"TLV LTG","d":2438,"v":57.09},{"s":"TLV LTG","d":2445,"v":57.08},{"s":"TLV LTG","d":2451,"v":57.04},{"s":"TLV LTG","d":2458,"v":57.02},{"s":"TLV LTG","d":2465,"v":56.99},{"s":"TLV LTG","d":2475,"v":56.99},{"s":"TLV LTG","d":2485,"v":56.99},{"s":"TLV LTG","d":2492,"v":56.98},{"s":"TLV LTG","d":2499,"v":56.93},{"s":"TLV LTG","d":2505,"v":56.98},{"s":"TLV LTG","d":2512,"v":57.06},{"s":"TLV LTG","d":2517,"v":57.35},{"s":"TLV LTG","d":2521,"v":57.22},{"s":"TLV LTG","d":2527,"v":57.07},{"s":"TLV LTG","d":2534,"v":57.22},{"s":"TLV LTG","d":2542,"v":57.39},{"s":"TLV LTG","d":2549,"v":57.41},{"s":"TLV LTG","d":2554,"v":57.35},{"s":"TLV LTG","d":2561,"v":57.29},{"s":"TLV LTG","d":2567,"v":57.36},{"s":"TLV LTG","d":2571,"v":57.43},{"s":"TLV LTG","d":2576,"v":57.54},{"s":"TLV LTG","d":2582,"v":57.54},{"s":"TLV LTG","d":2587,"v":57.47},{"s":"TLV LTG","d":2592,"v":57.35},{"s":"TLV LTG","d":2597,"v":57.26},{"s":"TLV LTG","d":2602,"v":57.22},{"s":"TLV LTG","d":2608,"v":57.28},{"s":"TLV LTG","d":2613,"v":57.4},{"s":"TLV LTG","d":2618,"v":57.37},{"s":"TLV LTG","d":2623,"v":57.32},{"s":"TLV LTG","d":2626,"v":57.4},{"s":"TLV LTG","d":2631,"v":57.37},{"s":"TLV LTG","d":2636,"v":57.35},{"s":"TLV LTG","d":2642,"v":57.36},{"s":"TLV LTG","d":2647,"v":57.4},{"s":"TLV LTG","d":2652,"v":57.41},{"s":"TLV LTG","d":2657,"v":57.34},{"s":"TLV LTG","d":2663,"v":57.24},{"s":"TLV LTG","d":2668,"v":57.17},{"s":"TLV LTG","d":2671,"v":57.1},{"s":"TLV LTG","d":2675,"v":57.14},{"s":"TLV LTG","d":2682,"v":57.07},{"s":"TLV LTG","d":2688,"v":57.05},{"s":"TLV LTG","d":2692,"v":57.04},{"s":"TLV LTG","d":2697,"v":57.01},
{"s":"T-18 UTG","d":0,"v":56.91},{"s":"T-18 UTG","d":7,"v":56.85},{"s":"T-18 UTG","d":14,"v":56.98},{"s":"T-18 UTG","d":21,"v":56.84},{"s":"T-18 UTG","d":28,"v":56.94},{"s":"T-18 UTG","d":35,"v":56.95},{"s":"T-18 UTG","d":40,"v":56.87},{"s":"T-18 UTG","d":46,"v":56.75},{"s":"T-18 UTG","d":51,"v":56.76},{"s":"T-18 UTG","d":56,"v":56.79},{"s":"T-18 UTG","d":63,"v":56.89},{"s":"T-18 UTG","d":70,"v":56.94},{"s":"T-18 UTG","d":77,"v":56.87},{"s":"T-18 UTG","d":84,"v":56.84},{"s":"T-18 UTG","d":91,"v":56.95},{"s":"T-18 UTG","d":98,"v":56.99},{"s":"T-18 UTG","d":103,"v":56.96},{"s":"T-18 UTG","d":107,"v":56.77},{"s":"T-18 UTG","d":112,"v":56.67},{"s":"T-18 UTG","d":116,"v":56.57},{"s":"T-18 UTG","d":121,"v":56.57},{"s":"T-18 UTG","d":126,"v":56.62},{"s":"T-18 UTG","d":131,"v":56.6},{"s":"T-18 UTG","d":137,"v":56.54},{"s":"T-18 UTG","d":142,"v":56.45},{"s":"T-18 UTG","d":147,"v":56.5},{"s":"T-18 UTG","d":152,"v":56.56},{"s":"T-18 UTG","d":158,"v":56.55},{"s":"T-18 UTG","d":163,"v":56.52},{"s":"T-18 UTG","d":168,"v":56.64},{"s":"T-18 UTG","d":175,"v":56.69},{"s":"T-18 UTG","d":182,"v":56.72},{"s":"T-18 UTG","d":189,"v":56.69},{"s":"T-18 UTG","d":196,"v":56.56},{"s":"T-18 UTG","d":200,"v":56.67},{"s":"T-18 UTG","d":207,"v":56.7},{"s":"T-18 UTG","d":214,"v":56.71},{"s":"T-18 UTG","d":221,"v":56.65},{"s":"T-18 UTG","d":228,"v":56.64},{"s":"T-18 UTG","d":235,"v":56.67},{"s":"T-18 UTG","d":242,"v":56.65},{"s":"T-18 UTG","d":249,"v":56.64},{"s":"T-18 UTG","d":256,"v":56.69},{"s":"T-18 UTG","d":263,"v":56.7},{"s":"T-18 UTG","d":268,"v":56.81},{"s":"T-18 UTG","d":273,"v":56.92},{"s":"T-18 UTG","d":280,"v":57.0},{"s":"T-18 UTG","d":287,"v":56.94},{"s":"T-18 UTG","d":294,"v":57.06},{"s":"T-18 UTG","d":301,"v":57.02},{"s":"T-18 UTG","d":308,"v":57.1},{"s":"T-18 UTG","d":312,"v":57.06},{"s":"T-18 UTG","d":319,"v":56.99},{"s":"T-18 UTG","d":326,"v":57.03},{"s":"T-18 UTG","d":332,"v":56.94},{"s":"T-18 UTG","d":336,"v":56.87},{"s":"T-18 UTG","d":343,"v":56.89},{"s":"T-18 UTG","d":350,"v":56.97},{"s":"T-18 UTG","d":357,"v":56.94},{"s":"T-18 UTG","d":364,"v":56.92},{"s":"T-18 UTG","d":371,"v":56.9},{"s":"T-18 UTG","d":376,"v":56.91},{"s":"T-18 UTG","d":382,"v":56.79},{"s":"T-18 UTG","d":389,"v":56.72},{"s":"T-18 UTG","d":396,"v":56.71},{"s":"T-18 UTG","d":403,"v":56.69},{"s":"T-18 UTG","d":410,"v":56.77},{"s":"T-18 UTG","d":417,"v":56.81},{"s":"T-18 UTG","d":424,"v":56.82},{"s":"T-18 UTG","d":431,"v":56.83},{"s":"T-18 UTG","d":438,"v":56.79},{"s":"T-18 UTG","d":445,"v":56.77},{"s":"T-18 UTG","d":452,"v":56.89},{"s":"T-18 UTG","d":459,"v":56.94},{"s":"T-18 UTG","d":466,"v":56.99},{"s":"T-18 UTG","d":473,"v":57.02},{"s":"T-18 UTG","d":480,"v":56.91},{"s":"T-18 UTG","d":487,"v":56.87},{"s":"T-18 UTG","d":494,"v":56.94},{"s":"T-18 UTG","d":501,"v":56.9},{"s":"T-18 UTG","d":508,"v":56.84},{"s":"T-18 UTG","d":515,"v":56.83},{"s":"T-18 UTG","d":522,"v":56.92},{"s":"T-18 UTG","d":529,"v":57.02},{"s":"T-18 UTG","d":536,"v":57.05},{"s":"T-18 UTG","d":543,"v":56.95},{"s":"T-18 UTG","d":550,"v":56.87},{"s":"T-18 UTG","d":557,"v":56.89},{"s":"T-18 UTG","d":564,"v":56.9},{"s":"T-18 UTG","d":571,"v":56.94},{"s":"T-18 UTG","d":578,"v":56.91},{"s":"T-18 UTG","d":585,"v":56.89},{"s":"T-18 UTG","d":592,"v":56.87},{"s":"T-18 UTG","d":599,"v":56.9},{"s":"T-18 UTG","d":606,"v":56.88},{"s":"T-18 UTG","d":613,"v":56.88},{"s":"T-18 UTG","d":620,"v":56.94},{"s":"T-18 UTG","d":627,"v":57.02},{"s":"T-18 UTG","d":634,"v":56.94},{"s":"T-18 UTG","d":641,"v":56.9},{"s":"T-18 UTG","d":648,"v":56.98},{"s":"T-18 UTG","d":655,"v":57.04},{"s":"T-18 UTG","d":662,"v":57.07},{"s":"T-18 UTG","d":669,"v":57.02},{"s":"T-18 UTG","d":676,"v":57.07},{"s":"T-18 UTG","d":683,"v":57.1},{"s":"T-18 UTG","d":690,"v":57.19},{"s":"T-18 UTG","d":697,"v":57.12},{"s":"T-18 UTG","d":703,"v":57.05},{"s":"T-18 UTG","d":708,"v":57.0},{"s":"T-18 UTG","d":715,"v":56.99},{"s":"T-18 UTG","d":722,"v":56.9},{"s":"T-18 UTG","d":729,"v":56.85},{"s":"T-18 UTG","d":736,"v":56.77},{"s":"T-18 UTG","d":743,"v":56.75},{"s":"T-18 UTG","d":750,"v":56.77},{"s":"T-18 UTG","d":757,"v":56.71},{"s":"T-18 UTG","d":763,"v":56.72},{"s":"T-18 UTG","d":770,"v":56.75},{"s":"T-18 UTG","d":777,"v":56.7},{"s":"T-18 UTG","d":784,"v":56.68},{"s":"T-18 UTG","d":791,"v":56.66},{"s":"T-18 UTG","d":798,"v":56.65},{"s":"T-18 UTG","d":805,"v":56.67},{"s":"T-18 UTG","d":812,"v":56.68},{"s":"T-18 UTG","d":819,"v":56.67},{"s":"T-18 UTG","d":826,"v":56.69},{"s":"T-18 UTG","d":833,"v":56.67},{"s":"T-18 UTG","d":840,"v":56.64},{"s":"T-18 UTG","d":847,"v":56.67},{"s":"T-18 UTG","d":854,"v":56.68},{"s":"T-18 UTG","d":861,"v":56.69},{"s":"T-18 UTG","d":868,"v":56.68},{"s":"T-18 UTG","d":875,"v":56.67},{"s":"T-18 UTG","d":881,"v":56.65},{"s":"T-18 UTG","d":886,"v":56.75},{"s":"T-18 UTG","d":889,"v":56.87},{"s":"T-18 UTG","d":896,"v":56.91},{"s":"T-18 UTG","d":903,"v":56.95},{"s":"T-18 UTG","d":910,"v":56.94},{"s":"T-18 UTG","d":917,"v":56.92},{"s":"T-18 UTG","d":924,"v":56.98},{"s":"T-18 UTG","d":931,"v":57.02},{"s":"T-18 UTG","d":938,"v":57.05},{"s":"T-18 UTG","d":945,"v":57.02},{"s":"T-18 UTG","d":952,"v":57.0},{"s":"T-18 UTG","d":959,"v":57.05},{"s":"T-18 UTG","d":966,"v":56.99},{"s":"T-18 UTG","d":973,"v":57.05},{"s":"T-18 UTG","d":980,"v":57.02},{"s":"T-18 UTG","d":987,"v":57.07},{"s":"T-18 UTG","d":994,"v":57.03},{"s":"T-18 UTG","d":1001,"v":57.04},{"s":"T-18 UTG","d":1008,"v":56.98},{"s":"T-18 UTG","d":1015,"v":57.04},{"s":"T-18 UTG","d":1022,"v":56.95},{"s":"T-18 UTG","d":1029,"v":56.94},{"s":"T-18 UTG","d":1036,"v":57.0},{"s":"T-18 UTG","d":1043,"v":57.07},{"s":"T-18 UTG","d":1050,"v":57.02},{"s":"T-18 UTG","d":1057,"v":57.06},{"s":"T-18 UTG","d":1064,"v":56.98},{"s":"T-18 UTG","d":1071,"v":57.06},{"s":"T-18 UTG","d":1076,"v":57.1},{"s":"T-18 UTG","d":1080,"v":57.22},{"s":"T-18 UTG","d":1085,"v":57.12},{"s":"T-18 UTG","d":1090,"v":57.16},{"s":"T-18 UTG","d":1095,"v":57.08},{"s":"T-18 UTG","d":1099,"v":56.94},{"s":"T-18 UTG","d":1104,"v":56.72},{"s":"T-18 UTG","d":1108,"v":56.7},{"s":"T-18 UTG","d":1113,"v":56.8},{"s":"T-18 UTG","d":1120,"v":56.75},{"s":"T-18 UTG","d":1127,"v":56.69},{"s":"T-18 UTG","d":1134,"v":56.79},{"s":"T-18 UTG","d":1141,"v":56.85},{"s":"T-18 UTG","d":1148,"v":56.83},{"s":"T-18 UTG","d":1155,"v":56.81},{"s":"T-18 UTG","d":1162,"v":56.9},{"s":"T-18 UTG","d":1169,"v":56.98},{"s":"T-18 UTG","d":1176,"v":57.0},{"s":"T-18 UTG","d":1183,"v":56.9},{"s":"T-18 UTG","d":1190,"v":56.81},{"s":"T-18 UTG","d":1197,"v":56.85},{"s":"T-18 UTG","d":1204,"v":56.87},{"s":"T-18 UTG","d":1211,"v":56.89},{"s":"T-18 UTG","d":1218,"v":56.85},{"s":"T-18 UTG","d":1225,"v":56.87},{"s":"T-18 UTG","d":1232,"v":56.85},{"s":"T-18 UTG","d":1239,"v":56.77},{"s":"T-18 UTG","d":1246,"v":56.79},{"s":"T-18 UTG","d":1253,"v":56.81},{"s":"T-18 UTG","d":1260,"v":56.72},{"s":"T-18 UTG","d":1267,"v":56.79},{"s":"T-18 UTG","d":1274,"v":56.77},{"s":"T-18 UTG","d":1280,"v":56.9},{"s":"T-18 UTG","d":1284,"v":57.06},{"s":"T-18 UTG","d":1287,"v":57.15},{"s":"T-18 UTG","d":1291,"v":57.02},{"s":"T-18 UTG","d":1296,"v":56.9},{"s":"T-18 UTG","d":1303,"v":56.82},{"s":"T-18 UTG","d":1310,"v":56.79},{"s":"T-18 UTG","d":1317,"v":56.8},{"s":"T-18 UTG","d":1324,"v":56.75},{"s":"T-18 UTG","d":1331,"v":56.75},{"s":"T-18 UTG","d":1338,"v":56.8},{"s":"T-18 UTG","d":1345,"v":56.79},{"s":"T-18 UTG","d":1352,"v":56.83},{"s":"T-18 UTG","d":1359,"v":56.8},{"s":"T-18 UTG","d":1366,"v":56.82},{"s":"T-18 UTG","d":1373,"v":56.85},{"s":"T-18 UTG","d":1380,"v":56.83},{"s":"T-18 UTG","d":1387,"v":56.84},{"s":"T-18 UTG","d":1394,"v":56.87},{"s":"T-18 UTG","d":1401,"v":56.89},{"s":"T-18 UTG","d":1408,"v":56.92},{"s":"T-18 UTG","d":1415,"v":56.89},{"s":"T-18 UTG","d":1422,"v":56.85},{"s":"T-18 UTG","d":1429,"v":56.81},{"s":"T-18 UTG","d":1436,"v":56.83},{"s":"T-18 UTG","d":1443,"v":56.79},{"s":"T-18 UTG","d":1450,"v":56.77},{"s":"T-18 UTG","d":1457,"v":56.81},{"s":"T-18 UTG","d":1464,"v":56.75},{"s":"T-18 UTG","d":1471,"v":56.7},{"s":"T-18 UTG","d":1478,"v":56.67},{"s":"T-18 UTG","d":1485,"v":56.74},{"s":"T-18 UTG","d":1492,"v":56.71},{"s":"T-18 UTG","d":1499,"v":56.67},{"s":"T-18 UTG","d":1506,"v":56.64},{"s":"T-18 UTG","d":1513,"v":56.6},{"s":"T-18 UTG","d":1520,"v":56.69},{"s":"T-18 UTG","d":1527,"v":56.75},{"s":"T-18 UTG","d":1534,"v":56.79},{"s":"T-18 UTG","d":1541,"v":56.94},{"s":"T-18 UTG","d":1548,"v":56.95},{"s":"T-18 UTG","d":1555,"v":56.87},{"s":"T-18 UTG","d":1562,"v":56.84},{"s":"T-18 UTG","d":1569,"v":56.79},{"s":"T-18 UTG","d":1576,"v":56.85},{"s":"T-18 UTG","d":1583,"v":56.83},{"s":"T-18 UTG","d":1590,"v":56.75},{"s":"T-18 UTG","d":1597,"v":56.77},{"s":"T-18 UTG","d":1604,"v":56.79},{"s":"T-18 UTG","d":1611,"v":56.82},{"s":"T-18 UTG","d":1618,"v":56.69},{"s":"T-18 UTG","d":1625,"v":56.59},{"s":"T-18 UTG","d":1632,"v":56.62},{"s":"T-18 UTG","d":1639,"v":56.71},{"s":"T-18 UTG","d":1646,"v":56.75},{"s":"T-18 UTG","d":1653,"v":56.81},{"s":"T-18 UTG","d":1660,"v":56.77},{"s":"T-18 UTG","d":1667,"v":56.73},{"s":"T-18 UTG","d":1674,"v":56.69},{"s":"T-18 UTG","d":1681,"v":56.73},{"s":"T-18 UTG","d":1688,"v":56.77},{"s":"T-18 UTG","d":1695,"v":56.69},{"s":"T-18 UTG","d":1702,"v":56.64},{"s":"T-18 UTG","d":1709,"v":56.64},{"s":"T-18 UTG","d":1716,"v":56.59},{"s":"T-18 UTG","d":1723,"v":56.52},{"s":"T-18 UTG","d":1730,"v":56.59},{"s":"T-18 UTG","d":1737,"v":56.56},{"s":"T-18 UTG","d":1744,"v":56.54},{"s":"T-18 UTG","d":1751,"v":56.54},{"s":"T-18 UTG","d":1758,"v":56.52},{"s":"T-18 UTG","d":1765,"v":56.5},{"s":"T-18 UTG","d":1770,"v":56.52},{"s":"T-18 UTG","d":1775,"v":56.47},{"s":"T-18 UTG","d":1782,"v":56.56},{"s":"T-18 UTG","d":1789,"v":56.64},{"s":"T-18 UTG","d":1796,"v":56.7},{"s":"T-18 UTG","d":1803,"v":56.74},{"s":"T-18 UTG","d":1810,"v":56.69},{"s":"T-18 UTG","d":1816,"v":56.64},{"s":"T-18 UTG","d":1823,"v":56.64},{"s":"T-18 UTG","d":1830,"v":56.57},{"s":"T-18 UTG","d":1835,"v":56.5},{"s":"T-18 UTG","d":1841,"v":56.59},{"s":"T-18 UTG","d":1847,"v":56.7},{"s":"T-18 UTG","d":1854,"v":56.64},{"s":"T-18 UTG","d":1859,"v":56.59},{"s":"T-18 UTG","d":1864,"v":56.67},{"s":"T-18 UTG","d":1871,"v":56.83},{"s":"T-18 UTG","d":1878,"v":56.84},{"s":"T-18 UTG","d":1885,"v":56.79},{"s":"T-18 UTG","d":1891,"v":56.69},{"s":"T-18 UTG","d":1897,"v":56.62},{"s":"T-18 UTG","d":1902,"v":56.75},{"s":"T-18 UTG","d":1909,"v":56.75},{"s":"T-18 UTG","d":1916,"v":56.79},{"s":"T-18 UTG","d":1923,"v":56.77},{"s":"T-18 UTG","d":1929,"v":56.75},{"s":"T-18 UTG","d":1936,"v":56.74},{"s":"T-18 UTG","d":1942,"v":56.71},{"s":"T-18 UTG","d":1947,"v":56.85},{"s":"T-18 UTG","d":1952,"v":57.02},{"s":"T-18 UTG","d":1958,"v":57.1},{"s":"T-18 UTG","d":1964,"v":57.15},{"s":"T-18 UTG","d":1971,"v":57.2},{"s":"T-18 UTG","d":1976,"v":57.14},{"s":"T-18 UTG","d":1982,"v":57.05},{"s":"T-18 UTG","d":1986,"v":57.08},{"s":"T-18 UTG","d":1991,"v":57.37},{"s":"T-18 UTG","d":1995,"v":57.45},{"s":"T-18 UTG","d":1998,"v":57.3},{"s":"T-18 UTG","d":2003,"v":57.14},{"s":"T-18 UTG","d":2008,"v":57.06},{"s":"T-18 UTG","d":2014,"v":57.04},{"s":"T-18 UTG","d":2020,"v":57.1},{"s":"T-18 UTG","d":2026,"v":57.18},{"s":"T-18 UTG","d":2030,"v":57.15},{"s":"T-18 UTG","d":2034,"v":57.05},{"s":"T-18 UTG","d":2039,"v":57.0},{"s":"T-18 UTG","d":2045,"v":56.98},{"s":"T-18 UTG","d":2050,"v":57.02},{"s":"T-18 UTG","d":2057,"v":56.91},{"s":"T-18 UTG","d":2063,"v":57.06},{"s":"T-18 UTG","d":2068,"v":57.18},{"s":"T-18 UTG","d":2072,"v":57.3},{"s":"T-18 UTG","d":2075,"v":57.37},{"s":"T-18 UTG","d":2079,"v":57.26},{"s":"T-18 UTG","d":2084,"v":57.18},{"s":"T-18 UTG","d":2091,"v":57.14},{"s":"T-18 UTG","d":2098,"v":57.1},{"s":"T-18 UTG","d":2104,"v":57.12},{"s":"T-18 UTG","d":2108,"v":57.05},{"s":"T-18 UTG","d":2111,"v":56.98},{"s":"T-18 UTG","d":2116,"v":56.77},{"s":"T-18 UTG","d":2122,"v":56.67},{"s":"T-18 UTG","d":2127,"v":56.75},{"s":"T-18 UTG","d":2132,"v":56.7},{"s":"T-18 UTG","d":2137,"v":56.69},{"s":"T-18 UTG","d":2142,"v":56.64},{"s":"T-18 UTG","d":2148,"v":56.6},{"s":"T-18 UTG","d":2153,"v":56.73},{"s":"T-18 UTG","d":2157,"v":56.77},{"s":"T-18 UTG","d":2163,"v":56.67},{"s":"T-18 UTG","d":2168,"v":56.74},{"s":"T-18 UTG","d":2173,"v":56.94},{"s":"T-18 UTG","d":2178,"v":56.81},{"s":"T-18 UTG","d":2184,"v":56.64},{"s":"T-18 UTG","d":2190,"v":56.7},{"s":"T-18 UTG","d":2197,"v":56.75},{"s":"T-18 UTG","d":2202,"v":56.7},{"s":"T-18 UTG","d":2208,"v":56.64},{"s":"T-18 UTG","d":2215,"v":56.7},{"s":"T-18 UTG","d":2222,"v":56.77},{"s":"T-18 UTG","d":2229,"v":56.85},{"s":"T-18 UTG","d":2235,"v":56.84},{"s":"T-18 UTG","d":2242,"v":56.9},{"s":"T-18 UTG","d":2249,"v":56.89},{"s":"T-18 UTG","d":2255,"v":56.94},{"s":"T-18 UTG","d":2262,"v":56.98},{"s":"T-18 UTG","d":2267,"v":56.95},{"s":"T-18 UTG","d":2274,"v":56.85},{"s":"T-18 UTG","d":2281,"v":56.77},{"s":"T-18 UTG","d":2287,"v":56.71},{"s":"T-18 UTG","d":2293,"v":56.7},{"s":"T-18 UTG","d":2299,"v":56.79},{"s":"T-18 UTG","d":2304,"v":56.82},{"s":"T-18 UTG","d":2311,"v":56.85},{"s":"T-18 UTG","d":2318,"v":56.89},{"s":"T-18 UTG","d":2324,"v":56.91},{"s":"T-18 UTG","d":2331,"v":56.89},{"s":"T-18 UTG","d":2338,"v":56.85},{"s":"T-18 UTG","d":2345,"v":56.83},{"s":"T-18 UTG","d":2352,"v":56.85},{"s":"T-18 UTG","d":2359,"v":56.94},{"s":"T-18 UTG","d":2366,"v":56.98},{"s":"T-18 UTG","d":2372,"v":57.0},{"s":"T-18 UTG","d":2379,"v":56.94},{"s":"T-18 UTG","d":2386,"v":56.9},{"s":"T-18 UTG","d":2393,"v":56.88},{"s":"T-18 UTG","d":2400,"v":56.85},{"s":"T-18 UTG","d":2407,"v":56.81},{"s":"T-18 UTG","d":2414,"v":56.75},{"s":"T-18 UTG","d":2420,"v":56.85},{"s":"T-18 UTG","d":2427,"v":56.94},{"s":"T-18 UTG","d":2434,"v":56.99},{"s":"T-18 UTG","d":2441,"v":56.97},{"s":"T-18 UTG","d":2448,"v":56.95},{"s":"T-18 UTG","d":2455,"v":56.94},{"s":"T-18 UTG","d":2462,"v":56.9},{"s":"T-18 UTG","d":2469,"v":56.85},{"s":"T-18 UTG","d":2475,"v":56.82},{"s":"T-18 UTG","d":2482,"v":56.87},{"s":"T-18 UTG","d":2489,"v":56.88},{"s":"T-18 UTG","d":2496,"v":56.85},{"s":"T-18 UTG","d":2503,"v":56.89},{"s":"T-18 UTG","d":2510,"v":56.98},{"s":"T-18 UTG","d":2517,"v":57.1},{"s":"T-18 UTG","d":2522,"v":57.02},{"s":"T-18 UTG","d":2527,"v":56.98},{"s":"T-18 UTG","d":2534,"v":57.02},{"s":"T-18 UTG","d":2540,"v":57.07},{"s":"T-18 UTG","d":2547,"v":57.25},{"s":"T-18 UTG","d":2553,"v":57.12},{"s":"T-18 UTG","d":2560,"v":57.02},{"s":"T-18 UTG","d":2566,"v":57.06},{"s":"T-18 UTG","d":2571,"v":57.1},{"s":"T-18 UTG","d":2576,"v":57.24},{"s":"T-18 UTG","d":2582,"v":57.12},{"s":"T-18 UTG","d":2589,"v":57.02},{"s":"T-18 UTG","d":2596,"v":57.05},{"s":"T-18 UTG","d":2602,"v":57.09},{"s":"T-18 UTG","d":2609,"v":57.04},{"s":"T-18 UTG","d":2616,"v":57.06},{"s":"T-18 UTG","d":2623,"v":57.04},{"s":"T-18 UTG","d":2630,"v":57.06},{"s":"T-18 UTG","d":2637,"v":57.09},{"s":"T-18 UTG","d":2644,"v":57.04},{"s":"T-18 UTG","d":2650,"v":57.0},{"s":"T-18 UTG","d":2657,"v":57.05},{"s":"T-18 UTG","d":2663,"v":57.02},{"s":"T-18 UTG","d":2668,"v":56.94},{"s":"T-18 UTG","d":2673,"v":56.98},{"s":"T-18 UTG","d":2678,"v":57.02},{"s":"T-18 UTG","d":2685,"v":56.94},{"s":"T-18 UTG","d":2692,"v":56.87},{"s":"T-18 UTG","d":2697,"v":56.79},
{"s":"T-18 LTG","d":0,"v":57.0},{"s":"T-18 LTG","d":5,"v":56.94},{"s":"T-18 LTG","d":12,"v":57.19},{"s":"T-18 LTG","d":18,"v":56.99},{"s":"T-18 LTG","d":21,"v":56.88},{"s":"T-18 LTG","d":25,"v":57.02},{"s":"T-18 LTG","d":32,"v":57.2},{"s":"T-18 LTG","d":37,"v":57.14},{"s":"T-18 LTG","d":39,"v":56.99},{"s":"T-18 LTG","d":46,"v":56.87},{"s":"T-18 LTG","d":53,"v":57.05},{"s":"T-18 LTG","d":60,"v":57.0},{"s":"T-18 LTG","d":67,"v":57.04},{"s":"T-18 LTG","d":74,"v":57.09},{"s":"T-18 LTG","d":77,"v":57.14},{"s":"T-18 LTG","d":82,"v":57.07},{"s":"T-18 LTG","d":89,"v":57.11},{"s":"T-18 LTG","d":96,"v":57.11},{"s":"T-18 LTG","d":102,"v":57.05},{"s":"T-18 LTG","d":105,"v":56.94},{"s":"T-18 LTG","d":109,"v":56.77},{"s":"T-18 LTG","d":114,"v":56.65},{"s":"T-18 LTG","d":119,"v":56.67},{"s":"T-18 LTG","d":124,"v":56.64},{"s":"T-18 LTG","d":130,"v":56.62},{"s":"T-18 LTG","d":137,"v":56.6},{"s":"T-18 LTG","d":142,"v":56.52},{"s":"T-18 LTG","d":147,"v":56.6},{"s":"T-18 LTG","d":152,"v":56.65},{"s":"T-18 LTG","d":158,"v":56.59},{"s":"T-18 LTG","d":163,"v":56.55},{"s":"T-18 LTG","d":168,"v":56.69},{"s":"T-18 LTG","d":175,"v":56.77},{"s":"T-18 LTG","d":182,"v":56.79},{"s":"T-18 LTG","d":189,"v":56.71},{"s":"T-18 LTG","d":194,"v":56.6},{"s":"T-18 LTG","d":200,"v":56.77},{"s":"T-18 LTG","d":205,"v":56.79},{"s":"T-18 LTG","d":210,"v":56.75},{"s":"T-18 LTG","d":217,"v":56.71},{"s":"T-18 LTG","d":224,"v":56.73},{"s":"T-18 LTG","d":229,"v":56.85},{"s":"T-18 LTG","d":235,"v":56.85},{"s":"T-18 LTG","d":240,"v":56.75},{"s":"T-18 LTG","d":245,"v":56.69},{"s":"T-18 LTG","d":252,"v":56.72},{"s":"T-18 LTG","d":258,"v":56.7},{"s":"T-18 LTG","d":264,"v":56.71},{"s":"T-18 LTG","d":270,"v":56.94},{"s":"T-18 LTG","d":277,"v":57.29},{"s":"T-18 LTG","d":281,"v":57.14},{"s":"T-18 LTG","d":285,"v":57.11},{"s":"T-18 LTG","d":291,"v":57.2},{"s":"T-18 LTG","d":298,"v":57.11},{"s":"T-18 LTG","d":303,"v":57.14},{"s":"T-18 LTG","d":308,"v":57.26},{"s":"T-18 LTG","d":312,"v":57.29},{"s":"T-18 LTG","d":317,"v":57.25},{"s":"T-18 LTG","d":322,"v":57.18},{"s":"T-18 LTG","d":329,"v":57.18},{"s":"T-18 LTG","d":336,"v":57.18},{"s":"T-18 LTG","d":343,"v":57.15},{"s":"T-18 LTG","d":350,"v":57.16},{"s":"T-18 LTG","d":356,"v":57.16},{"s":"T-18 LTG","d":361,"v":57.16},{"s":"T-18 LTG","d":365,"v":57.07},{"s":"T-18 LTG","d":372,"v":57.08},{"s":"T-18 LTG","d":376,"v":57.05},{"s":"T-18 LTG","d":378,"v":57.08},{"s":"T-18 LTG","d":381,"v":56.89},{"s":"T-18 LTG","d":420,"v":null},{"s":"T-18 LTG","d":462,"v":57.05},{"s":"T-18 LTG","d":466,"v":57.1},{"s":"T-18 LTG","d":470,"v":57.07},{"s":"T-18 LTG","d":477,"v":57.18},{"s":"T-18 LTG","d":484,"v":57.41},{"s":"T-18 LTG","d":488,"v":57.36},{"s":"T-18 LTG","d":493,"v":57.22},{"s":"T-18 LTG","d":499,"v":57.14},{"s":"T-18 LTG","d":505,"v":57.12},{"s":"T-18 LTG","d":512,"v":57.09},{"s":"T-18 LTG","d":519,"v":57.14},{"s":"T-18 LTG","d":526,"v":57.26},{"s":"T-18 LTG","d":533,"v":57.3},{"s":"T-18 LTG","d":538,"v":57.22},{"s":"T-18 LTG","d":543,"v":57.1},{"s":"T-18 LTG","d":549,"v":57.14},{"s":"T-18 LTG","d":554,"v":57.16},{"s":"T-18 LTG","d":561,"v":57.3},{"s":"T-18 LTG","d":568,"v":57.18},{"s":"T-18 LTG","d":575,"v":57.08},{"s":"T-18 LTG","d":580,"v":57.14},{"s":"T-18 LTG","d":585,"v":57.35},{"s":"T-18 LTG","d":592,"v":57.22},{"s":"T-18 LTG","d":598,"v":57.1},{"s":"T-18 LTG","d":605,"v":57.35},{"s":"T-18 LTG","d":610,"v":57.26},{"s":"T-18 LTG","d":615,"v":57.22},{"s":"T-18 LTG","d":620,"v":57.26},{"s":"T-18 LTG","d":626,"v":57.35},{"s":"T-18 LTG","d":631,"v":57.22},{"s":"T-18 LTG","d":638,"v":57.1},{"s":"T-18 LTG","d":645,"v":57.14},{"s":"T-18 LTG","d":650,"v":57.22},{"s":"T-18 LTG","d":655,"v":57.3},{"s":"T-18 LTG","d":662,"v":57.32},{"s":"T-18 LTG","d":669,"v":57.3},{"s":"T-18 LTG","d":676,"v":57.33},{"s":"T-18 LTG","d":683,"v":57.28},{"s":"T-18 LTG","d":689,"v":57.35},{"s":"T-18 LTG","d":694,"v":57.3},{"s":"T-18 LTG","d":699,"v":57.37},{"s":"T-18 LTG","d":704,"v":57.33},{"s":"T-18 LTG","d":708,"v":57.27},{"s":"T-18 LTG","d":713,"v":57.25},{"s":"T-18 LTG","d":718,"v":57.29},{"s":"T-18 LTG","d":722,"v":57.22},{"s":"T-18 LTG","d":727,"v":57.04},{"s":"T-18 LTG","d":731,"v":56.94},{"s":"T-18 LTG","d":736,"v":56.91},{"s":"T-18 LTG","d":743,"v":56.9},{"s":"T-18 LTG","d":750,"v":56.87},{"s":"T-18 LTG","d":757,"v":56.86},{"s":"T-18 LTG","d":762,"v":56.78},{"s":"T-18 LTG","d":768,"v":56.83},{"s":"T-18 LTG","d":774,"v":56.75},{"s":"T-18 LTG","d":781,"v":56.77},{"s":"T-18 LTG","d":788,"v":56.76},{"s":"T-18 LTG","d":791,"v":56.71},{"s":"T-18 LTG","d":798,"v":56.75},{"s":"T-18 LTG","d":805,"v":56.74},{"s":"T-18 LTG","d":812,"v":56.76},{"s":"T-18 LTG","d":819,"v":56.79},{"s":"T-18 LTG","d":823,"v":56.74},{"s":"T-18 LTG","d":830,"v":56.75},{"s":"T-18 LTG","d":837,"v":56.7},{"s":"T-18 LTG","d":840,"v":56.68},{"s":"T-18 LTG","d":846,"v":56.75},{"s":"T-18 LTG","d":854,"v":56.76},{"s":"T-18 LTG","d":861,"v":56.75},{"s":"T-18 LTG","d":868,"v":56.76},{"s":"T-18 LTG","d":875,"v":56.75},{"s":"T-18 LTG","d":882,"v":56.75},{"s":"T-18 LTG","d":886,"v":56.98},{"s":"T-18 LTG","d":889,"v":57.02},{"s":"T-18 LTG","d":896,"v":57.0},{"s":"T-18 LTG","d":903,"v":57.04},{"s":"T-18 LTG","d":910,"v":57.05},{"s":"T-18 LTG","d":917,"v":57.08},{"s":"T-18 LTG","d":922,"v":57.05},{"s":"T-18 LTG","d":926,"v":57.14},{"s":"T-18 LTG","d":931,"v":57.1},{"s":"T-18 LTG","d":938,"v":57.08},{"s":"T-18 LTG","d":945,"v":57.11},{"s":"T-18 LTG","d":949,"v":57.09},{"s":"T-18 LTG","d":956,"v":57.16},{"s":"T-18 LTG","d":961,"v":57.1},{"s":"T-18 LTG","d":966,"v":57.09},{"s":"T-18 LTG","d":973,"v":57.12},{"s":"T-18 LTG","d":980,"v":57.14},{"s":"T-18 LTG","d":986,"v":57.17},{"s":"T-18 LTG","d":991,"v":57.2},{"s":"T-18 LTG","d":996,"v":57.15},{"s":"T-18 LTG","d":1001,"v":57.18},{"s":"T-18 LTG","d":1008,"v":57.12},{"s":"T-18 LTG","d":1015,"v":57.14},{"s":"T-18 LTG","d":1022,"v":57.17},{"s":"T-18 LTG","d":1029,"v":57.15},{"s":"T-18 LTG","d":1036,"v":57.2},{"s":"T-18 LTG","d":1042,"v":57.22},{"s":"T-18 LTG","d":1047,"v":57.27},{"s":"T-18 LTG","d":1052,"v":57.25},{"s":"T-18 LTG","d":1057,"v":57.22},{"s":"T-18 LTG","d":1063,"v":57.27},{"s":"T-18 LTG","d":1068,"v":57.24},{"s":"T-18 LTG","d":1073,"v":57.29},{"s":"T-18 LTG","d":1078,"v":57.31},{"s":"T-18 LTG","d":1084,"v":57.26},{"s":"T-18 LTG","d":1089,"v":57.22},{"s":"T-18 LTG","d":1094,"v":57.25},{"s":"T-18 LTG","d":1098,"v":57.22},{"s":"T-18 LTG","d":1101,"v":57.0},{"s":"T-18 LTG","d":1104,"v":56.79},{"s":"T-18 LTG","d":1108,"v":56.98},{"s":"T-18 LTG","d":1113,"v":56.88},{"s":"T-18 LTG","d":1118,"v":56.85},{"s":"T-18 LTG","d":1124,"v":56.94},{"s":"T-18 LTG","d":1127,"v":56.83},{"s":"T-18 LTG","d":1133,"v":57.02},{"s":"T-18 LTG","d":1138,"v":57.04},{"s":"T-18 LTG","d":1143,"v":57.0},{"s":"T-18 LTG","d":1147,"v":57.05},{"s":"T-18 LTG","d":1152,"v":57.02},{"s":"T-18 LTG","d":1159,"v":57.05},{"s":"T-18 LTG","d":1163,"v":57.08},{"s":"T-18 LTG","d":1166,"v":57.14},{"s":"T-18 LTG","d":1169,"v":57.22},{"s":"T-18 LTG","d":1173,"v":57.2},{"s":"T-18 LTG","d":1178,"v":57.13},{"s":"T-18 LTG","d":1183,"v":57.14},{"s":"T-18 LTG","d":1189,"v":57.1},{"s":"T-18 LTG","d":1194,"v":57.07},{"s":"T-18 LTG","d":1199,"v":57.11},{"s":"T-18 LTG","d":1204,"v":57.08},{"s":"T-18 LTG","d":1210,"v":57.09},{"s":"T-18 LTG","d":1217,"v":57.12},{"s":"T-18 LTG","d":1222,"v":57.1},{"s":"T-18 LTG","d":1229,"v":57.14},{"s":"T-18 LTG","d":1234,"v":57.1},{"s":"T-18 LTG","d":1239,"v":57.05},{"s":"T-18 LTG","d":1243,"v":57.02},{"s":"T-18 LTG","d":1248,"v":57.05},{"s":"T-18 LTG","d":1253,"v":57.0},{"s":"T-18 LTG","d":1258,"v":56.94},{"s":"T-18 LTG","d":1264,"v":56.88},{"s":"T-18 LTG","d":1271,"v":56.95},{"s":"T-18 LTG","d":1278,"v":57.02},{"s":"T-18 LTG","d":1283,"v":57.1},{"s":"T-18 LTG","d":1287,"v":57.23},{"s":"T-18 LTG","d":1290,"v":57.14},{"s":"T-18 LTG","d":1294,"v":57.05},{"s":"T-18 LTG","d":1297,"v":57.02},{"s":"T-18 LTG","d":1301,"v":56.85},{"s":"T-18 LTG","d":1306,"v":56.87},{"s":"T-18 LTG","d":1313,"v":56.9},{"s":"T-18 LTG","d":1318,"v":56.84},{"s":"T-18 LTG","d":1324,"v":56.86},{"s":"T-18 LTG","d":1331,"v":56.9},{"s":"T-18 LTG","d":1338,"v":56.86},{"s":"T-18 LTG","d":1345,"v":56.82},{"s":"T-18 LTG","d":1351,"v":56.9},{"s":"T-18 LTG","d":1357,"v":56.9},{"s":"T-18 LTG","d":1364,"v":56.86},{"s":"T-18 LTG","d":1373,"v":56.92},{"s":"T-18 LTG","d":1378,"v":56.96},{"s":"T-18 LTG","d":1383,"v":56.89},{"s":"T-18 LTG","d":1390,"v":56.92},{"s":"T-18 LTG","d":1397,"v":56.9},{"s":"T-18 LTG","d":1403,"v":56.94},{"s":"T-18 LTG","d":1408,"v":57.0},{"s":"T-18 LTG","d":1415,"v":56.94},{"s":"T-18 LTG","d":1422,"v":56.91},{"s":"T-18 LTG","d":1429,"v":56.85},{"s":"T-18 LTG","d":1436,"v":56.95},{"s":"T-18 LTG","d":1443,"v":56.84},{"s":"T-18 LTG","d":1450,"v":56.84},{"s":"T-18 LTG","d":1457,"v":56.87},{"s":"T-18 LTG","d":1464,"v":56.77},{"s":"T-18 LTG","d":1471,"v":56.75},{"s":"T-18 LTG","d":1478,"v":56.79},{"s":"T-18 LTG","d":1485,"v":56.84},{"s":"T-18 LTG","d":1492,"v":56.73},{"s":"T-18 LTG","d":1499,"v":56.69},{"s":"T-18 LTG","d":1506,"v":56.71},{"s":"T-18 LTG","d":1513,"v":56.62},{"s":"T-18 LTG","d":1520,"v":56.69},{"s":"T-18 LTG","d":1527,"v":56.75},{"s":"T-18 LTG","d":1534,"v":56.71},{"s":"T-18 LTG","d":1541,"v":56.88},{"s":"T-18 LTG","d":1548,"v":56.97},{"s":"T-18 LTG","d":1555,"v":56.94},{"s":"T-18 LTG","d":1562,"v":56.91},{"s":"T-18 LTG","d":1569,"v":56.9},{"s":"T-18 LTG","d":1576,"v":56.94},{"s":"T-18 LTG","d":1583,"v":56.87},{"s":"T-18 LTG","d":1590,"v":56.81},{"s":"T-18 LTG","d":1597,"v":56.85},{"s":"T-18 LTG","d":1604,"v":56.88},{"s":"T-18 LTG","d":1611,"v":56.87},{"s":"T-18 LTG","d":1618,"v":56.77},{"s":"T-18 LTG","d":1625,"v":56.69},{"s":"T-18 LTG","d":1632,"v":56.67},{"s":"T-18 LTG","d":1639,"v":56.75},{"s":"T-18 LTG","d":1646,"v":56.79},{"s":"T-18 LTG","d":1653,"v":56.9},{"s":"T-18 LTG","d":1660,"v":56.87},{"s":"T-18 LTG","d":1667,"v":56.77},{"s":"T-18 LTG","d":1674,"v":56.75},{"s":"T-18 LTG","d":1681,"v":56.81},{"s":"T-18 LTG","d":1688,"v":56.74},{"s":"T-18 LTG","d":1695,"v":56.71},{"s":"T-18 LTG","d":1702,"v":56.7},{"s":"T-18 LTG","d":1709,"v":56.77},{"s":"T-18 LTG","d":1716,"v":56.65},{"s":"T-18 LTG","d":1723,"v":56.55},{"s":"T-18 LTG","d":1730,"v":56.65},{"s":"T-18 LTG","d":1737,"v":56.6},{"s":"T-18 LTG","d":1744,"v":56.57},{"s":"T-18 LTG","d":1751,"v":56.58},{"s":"T-18 LTG","d":1758,"v":56.6},{"s":"T-18 LTG","d":1765,"v":56.62},{"s":"T-18 LTG","d":1768,"v":56.6},{"s":"T-18 LTG","d":1775,"v":56.56},{"s":"T-18 LTG","d":1781,"v":56.64},{"s":"T-18 LTG","d":1787,"v":56.75},{"s":"T-18 LTG","d":1793,"v":56.7},{"s":"T-18 LTG","d":1800,"v":56.77},{"s":"T-18 LTG","d":1806,"v":56.73},{"s":"T-18 LTG","d":1812,"v":56.71},{"s":"T-18 LTG","d":1818,"v":56.75},{"s":"T-18 LTG","d":1824,"v":56.7},{"s":"T-18 LTG","d":1830,"v":56.64},{"s":"T-18 LTG","d":1835,"v":56.53},{"s":"T-18 LTG","d":1841,"v":56.64},{"s":"T-18 LTG","d":1847,"v":56.79},{"s":"T-18 LTG","d":1854,"v":56.74},{"s":"T-18 LTG","d":1861,"v":56.75},{"s":"T-18 LTG","d":1868,"v":56.84},{"s":"T-18 LTG","d":1875,"v":56.94},{"s":"T-18 LTG","d":1880,"v":56.89},{"s":"T-18 LTG","d":1887,"v":56.87},{"s":"T-18 LTG","d":1892,"v":56.73},{"s":"T-18 LTG","d":1895,"v":56.65},{"s":"T-18 LTG","d":1902,"v":56.79},{"s":"T-18 LTG","d":1909,"v":56.84},{"s":"T-18 LTG","d":1916,"v":56.85},{"s":"T-18 LTG","d":1923,"v":56.79},{"s":"T-18 LTG","d":1929,"v":56.76},{"s":"T-18 LTG","d":1936,"v":56.75},{"s":"T-18 LTG","d":1942,"v":56.87},{"s":"T-18 LTG","d":1948,"v":56.94},{"s":"T-18 LTG","d":1954,"v":57.18},{"s":"T-18 LTG","d":1958,"v":57.22},{"s":"T-18 LTG","d":1964,"v":57.15},{"s":"T-18 LTG","d":1971,"v":57.29},{"s":"T-18 LTG","d":1976,"v":57.22},{"s":"T-18 LTG","d":1982,"v":57.14},{"s":"T-18 LTG","d":1988,"v":57.39},{"s":"T-18 LTG","d":1991,"v":57.48},{"s":"T-18 LTG","d":1996,"v":57.39},{"s":"T-18 LTG","d":2002,"v":57.22},{"s":"T-18 LTG","d":2006,"v":57.14},{"s":"T-18 LTG","d":2012,"v":57.11},{"s":"T-18 LTG","d":2017,"v":57.15},{"s":"T-18 LTG","d":2023,"v":57.22},{"s":"T-18 LTG","d":2029,"v":57.25},{"s":"T-18 LTG","d":2034,"v":57.14},{"s":"T-18 LTG","d":2039,"v":57.1},{"s":"T-18 LTG","d":2041,"v":57.06},{"s":"T-18 LTG","d":2046,"v":57.04},{"s":"T-18 LTG","d":2052,"v":57.03},{"s":"T-18 LTG","d":2057,"v":56.99},{"s":"T-18 LTG","d":2063,"v":57.3},{"s":"T-18 LTG","d":2068,"v":57.43},{"s":"T-18 LTG","d":2074,"v":57.48},{"s":"T-18 LTG","d":2079,"v":57.39},{"s":"T-18 LTG","d":2083,"v":57.22},{"s":"T-18 LTG","d":2087,"v":57.17},{"s":"T-18 LTG","d":2094,"v":57.18},{"s":"T-18 LTG","d":2100,"v":57.16},{"s":"T-18 LTG","d":2107,"v":57.18},{"s":"T-18 LTG","d":2112,"v":57.12},{"s":"T-18 LTG","d":2116,"v":56.94},{"s":"T-18 LTG","d":2122,"v":56.81},{"s":"T-18 LTG","d":2127,"v":56.85},{"s":"T-18 LTG","d":2132,"v":56.9},{"s":"T-18 LTG","d":2137,"v":56.87},{"s":"T-18 LTG","d":2142,"v":56.69},{"s":"T-18 LTG","d":2148,"v":56.64},{"s":"T-18 LTG","d":2153,"v":56.75},{"s":"T-18 LTG","d":2157,"v":56.88},{"s":"T-18 LTG","d":2163,"v":56.79},{"s":"T-18 LTG","d":2168,"v":56.74},{"s":"T-18 LTG","d":2173,"v":56.89},{"s":"T-18 LTG","d":2178,"v":56.81},{"s":"T-18 LTG","d":2184,"v":56.7},{"s":"T-18 LTG","d":2190,"v":56.85},{"s":"T-18 LTG","d":2197,"v":56.81},{"s":"T-18 LTG","d":2203,"v":56.69},{"s":"T-18 LTG","d":2208,"v":56.74},{"s":"T-18 LTG","d":2215,"v":56.77},{"s":"T-18 LTG","d":2222,"v":56.81},{"s":"T-18 LTG","d":2229,"v":56.94},{"s":"T-18 LTG","d":2235,"v":56.9},{"s":"T-18 LTG","d":2242,"v":56.95},{"s":"T-18 LTG","d":2249,"v":56.85},{"s":"T-18 LTG","d":2255,"v":56.91},{"s":"T-18 LTG","d":2262,"v":57.0},{"s":"T-18 LTG","d":2267,"v":57.02},{"s":"T-18 LTG","d":2274,"v":56.9},{"s":"T-18 LTG","d":2281,"v":56.81},{"s":"T-18 LTG","d":2287,"v":56.84},{"s":"T-18 LTG","d":2293,"v":56.75},{"s":"T-18 LTG","d":2299,"v":56.85},{"s":"T-18 LTG","d":2304,"v":56.9},{"s":"T-18 LTG","d":2311,"v":56.91},{"s":"T-18 LTG","d":2318,"v":56.9},{"s":"T-18 LTG","d":2324,"v":56.98},{"s":"T-18 LTG","d":2329,"v":57.14},{"s":"T-18 LTG","d":2335,"v":57.07},{"s":"T-18 LTG","d":2341,"v":56.9},{"s":"T-18 LTG","d":2348,"v":56.94},{"s":"T-18 LTG","d":2357,"v":56.99},{"s":"T-18 LTG","d":2366,"v":57.02},{"s":"T-18 LTG","d":2372,"v":57.07},{"s":"T-18 LTG","d":2376,"v":57.11},{"s":"T-18 LTG","d":2384,"v":57.15},{"s":"T-18 LTG","d":2390,"v":57.18},{"s":"T-18 LTG","d":2396,"v":57.18},{"s":"T-18 LTG","d":2402,"v":57.14},{"s":"T-18 LTG","d":2407,"v":57.09},{"s":"T-18 LTG","d":2412,"v":57.1},{"s":"T-18 LTG","d":2418,"v":57.11},{"s":"T-18 LTG","d":2425,"v":57.14},{"s":"T-18 LTG","d":2431,"v":57.18},{"s":"T-18 LTG","d":2436,"v":57.25},{"s":"T-18 LTG","d":2441,"v":57.27},{"s":"T-18 LTG","d":2446,"v":57.24},{"s":"T-18 LTG","d":2451,"v":57.22},{"s":"T-18 LTG","d":2457,"v":57.17},{"s":"T-18 LTG","d":2461,"v":57.13},{"s":"T-18 LTG","d":2466,"v":57.1},{"s":"T-18 LTG","d":2472,"v":57.12},{"s":"T-18 LTG","d":2479,"v":57.1},{"s":"T-18 LTG","d":2484,"v":57.13},{"s":"T-18 LTG","d":2489,"v":57.11},{"s":"T-18 LTG","d":2496,"v":57.12},{"s":"T-18 LTG","d":2502,"v":57.13},{"s":"T-18 LTG","d":2508,"v":57.2},{"s":"T-18 LTG","d":2513,"v":57.29},{"s":"T-18 LTG","d":2517,"v":57.4},{"s":"T-18 LTG","d":2520,"v":57.45},{"s":"T-18 LTG","d":2526,"v":57.39},{"s":"T-18 LTG","d":2530,"v":57.31},{"s":"T-18 LTG","d":2535,"v":57.28},{"s":"T-18 LTG","d":2541,"v":57.35},{"s":"T-18 LTG","d":2546,"v":57.42},{"s":"T-18 LTG","d":2551,"v":57.4},{"s":"T-18 LTG","d":2556,"v":57.35},{"s":"T-18 LTG","d":2561,"v":57.3},{"s":"T-18 LTG","d":2567,"v":57.37},{"s":"T-18 LTG","d":2571,"v":57.45},{"s":"T-18 LTG","d":2576,"v":57.55},{"s":"T-18 LTG","d":2582,"v":57.54},{"s":"T-18 LTG","d":2587,"v":57.43},{"s":"T-18 LTG","d":2592,"v":57.3},{"s":"T-18 LTG","d":2597,"v":57.22},{"s":"T-18 LTG","d":2602,"v":57.25},{"s":"T-18 LTG","d":2608,"v":57.3},{"s":"T-18 LTG","d":2613,"v":57.25},{"s":"T-18 LTG","d":2617,"v":57.2},{"s":"T-18 LTG","d":2623,"v":57.25},{"s":"T-18 LTG","d":2628,"v":57.22},{"s":"T-18 LTG","d":2635,"v":57.27},{"s":"T-18 LTG","d":2642,"v":57.32},{"s":"T-18 LTG","d":2647,"v":57.32},{"s":"T-18 LTG","d":2652,"v":57.3},{"s":"T-18 LTG","d":2657,"v":57.34},{"s":"T-18 LTG","d":2662,"v":57.32},{"s":"T-18 LTG","d":2666,"v":57.26},{"s":"T-18 LTG","d":2672,"v":57.25},{"s":"T-18 LTG","d":2678,"v":57.22},{"s":"T-18 LTG","d":2684,"v":57.15},{"s":"T-18 LTG","d":2688,"v":57.05},{"s":"T-18 LTG","d":2690,"v":57.02},{"s":"T-18 LTG","d":2693,"v":56.77},{"s":"T-18 LTG","d":2697,"v":56.57}
]
},
"layer": [
{
"data": {"name": "bands"},
"transform": [{"filter": "datum.type === 'grey' || datum.type === 'red'"}],
"mark": {"type": "rect"},
"encoding": {
"x": {"field": "start", "type": "quantitative", "title": "Distance (feet)", "scale": {"domain": [0, 2697], "nice": false, "zero": false}},
"x2": {"field": "end"},
"y": {"datum": 58, "type": "quantitative", "title": "Gage (in.)", "scale": {"domain": [56.4, 58], "nice": false, "zero": false}},
"y2": {"datum": 56.3885},
"fill": {"field": "type", "type": "nominal", "scale": {"domain": ["tan", "green", "grey", "red"], "range": ["#8E6941", "#8BC353", "#EEEEEE", "#FFBFBF"]}, "legend": null}
}
},
{
"data": {"name": "limit"},
"mark": {"type": "rule", "color": "black", "strokeWidth": 6.5, "strokeDash": [27, 19.7]},
"encoding": {
"x": {"field": "x0", "type": "quantitative", "title": "Distance (feet)"},
"x2": {"field": "x1"},
"y": {"field": "v", "type": "quantitative", "title": "Gage (in.)"}
}
},
{
"data": {"name": "bands"},
"transform": [{"filter": "datum.type === 'tan' || datum.type === 'green'"}],
"mark": {"type": "rect", "opacity": 0.25},
"encoding": {
"x": {"field": "start", "type": "quantitative", "title": "Distance (feet)"},
"x2": {"field": "end"},
"y": {"datum": 58, "type": "quantitative", "title": "Gage (in.)"},
"y2": {"datum": 56.3885},
"fill": {"field": "type", "type": "nominal", "legend": null}
}
},
{
"data": {"name": "gage"},
"mark": {"type": "line", "strokeJoin": "round", "invalid": "break-paths-show-domains"},
"encoding": {
"x": {"field": "d", "type": "quantitative", "title": "Distance (feet)",
 "axis": {"values": [0,100,200,300,400,500,600,700,800,900,1000,1100,1200,1300,1400,1500,1600,1700,1800,1900,2000,2100,2200,2300,2400,2500,2600],
 "format": "d", "labelExpr": "datum.value % 500 === 0 ? datum.label : ''",
 "tickSize": -8, "tickColor": "black", "tickWidth": 1.5, "domainColor": "black", "domainWidth": 2, "grid": false,
 "labelFont": "Open Sans", "labelFontSize": 34, "labelColor": "black", "labelPadding": 37, "labelFlush": false, "labelOverlap": false,
 "titleFont": "Open Sans", "titleFontSize": 36, "titleFontWeight": "normal", "titleColor": "black", "titleX": 812, "titlePadding": 12, "zindex": 1}},
"y": {"field": "v", "type": "quantitative", "title": "Gage (in.)",
 "axis": {"values": [56.4, 56.6, 56.8, 57, 57.2, 57.4, 57.6, 57.8, 58],
 "labelExpr": "replace(format(datum.value, '.1~f'), '.', ',')",
 "ticks": false, "domainColor": "black", "domainWidth": 2, "grid": false,
 "labelFont": "Open Sans", "labelFontSize": 32, "labelColor": "black", "labelPadding": 35, "labelFlush": false, "labelOverlap": false,
 "titleFont": "Open Sans", "titleFontSize": 36, "titleFontWeight": "normal", "titleColor": "black", "titlePadding": 20, "zindex": 1}},
"stroke": {"field": "s", "type": "nominal",
 "scale": {"domain": ["TLV UTG", "TLV LTG", "T-18 UTG", "T-18 LTG"], "range": ["#00B0F0", "#0000FF", "#FFC000", "#943634"]},
 "legend": {"title": null, "orient": "none", "legendX": 886, "legendY": 46, "padding": 12, "rowPadding": 18.2, "labelFont": "Liberation Sans", "labelFontSize": 31, "labelColor": "black", "symbolType": "M-3,0H3", "symbolSize": 529, "symbolOffset": 39, "labelOffset": 24, "strokeColor": "black", "fillColor": "white", "labelLimit": 400}},
"strokeDash": {"field": "s", "type": "nominal",
 "scale": {"domain": ["TLV UTG", "TLV LTG", "T-18 UTG", "T-18 LTG"], "range": [[6, 3], [1, 0], [6, 3], [1, 0]]},
 "legend": {"title": null, "orient": "none", "legendX": 886, "legendY": 46, "padding": 12, "rowPadding": 18.2, "labelFont": "Liberation Sans", "labelFontSize": 31, "labelColor": "black", "symbolType": "M-3,0H3", "symbolSize": 529, "symbolOffset": 39, "labelOffset": 24, "strokeColor": "black", "fillColor": "white", "labelLimit": 400}},
"strokeWidth": {"field": "s", "type": "nominal",
 "scale": {"type": "ordinal", "domain": ["TLV UTG", "TLV LTG", "T-18 UTG", "T-18 LTG"], "range": [2.5, 4.5, 2.5, 4.5]},
 "legend": {"title": null, "orient": "none", "legendX": 886, "legendY": 46, "padding": 12, "rowPadding": 18.2, "labelFont": "Liberation Sans", "labelFontSize": 31, "labelColor": "black", "symbolType": "M-3,0H3", "symbolSize": 529, "symbolOffset": 39, "labelOffset": 24, "strokeColor": "black", "fillColor": "white", "labelLimit": 400}}
}
},
{
"mark": {"type": "rule", "color": "black", "strokeWidth": 2},
"encoding": {"y": {"datum": 58, "type": "quantitative", "title": "Gage (in.)"}}
}
]
}
